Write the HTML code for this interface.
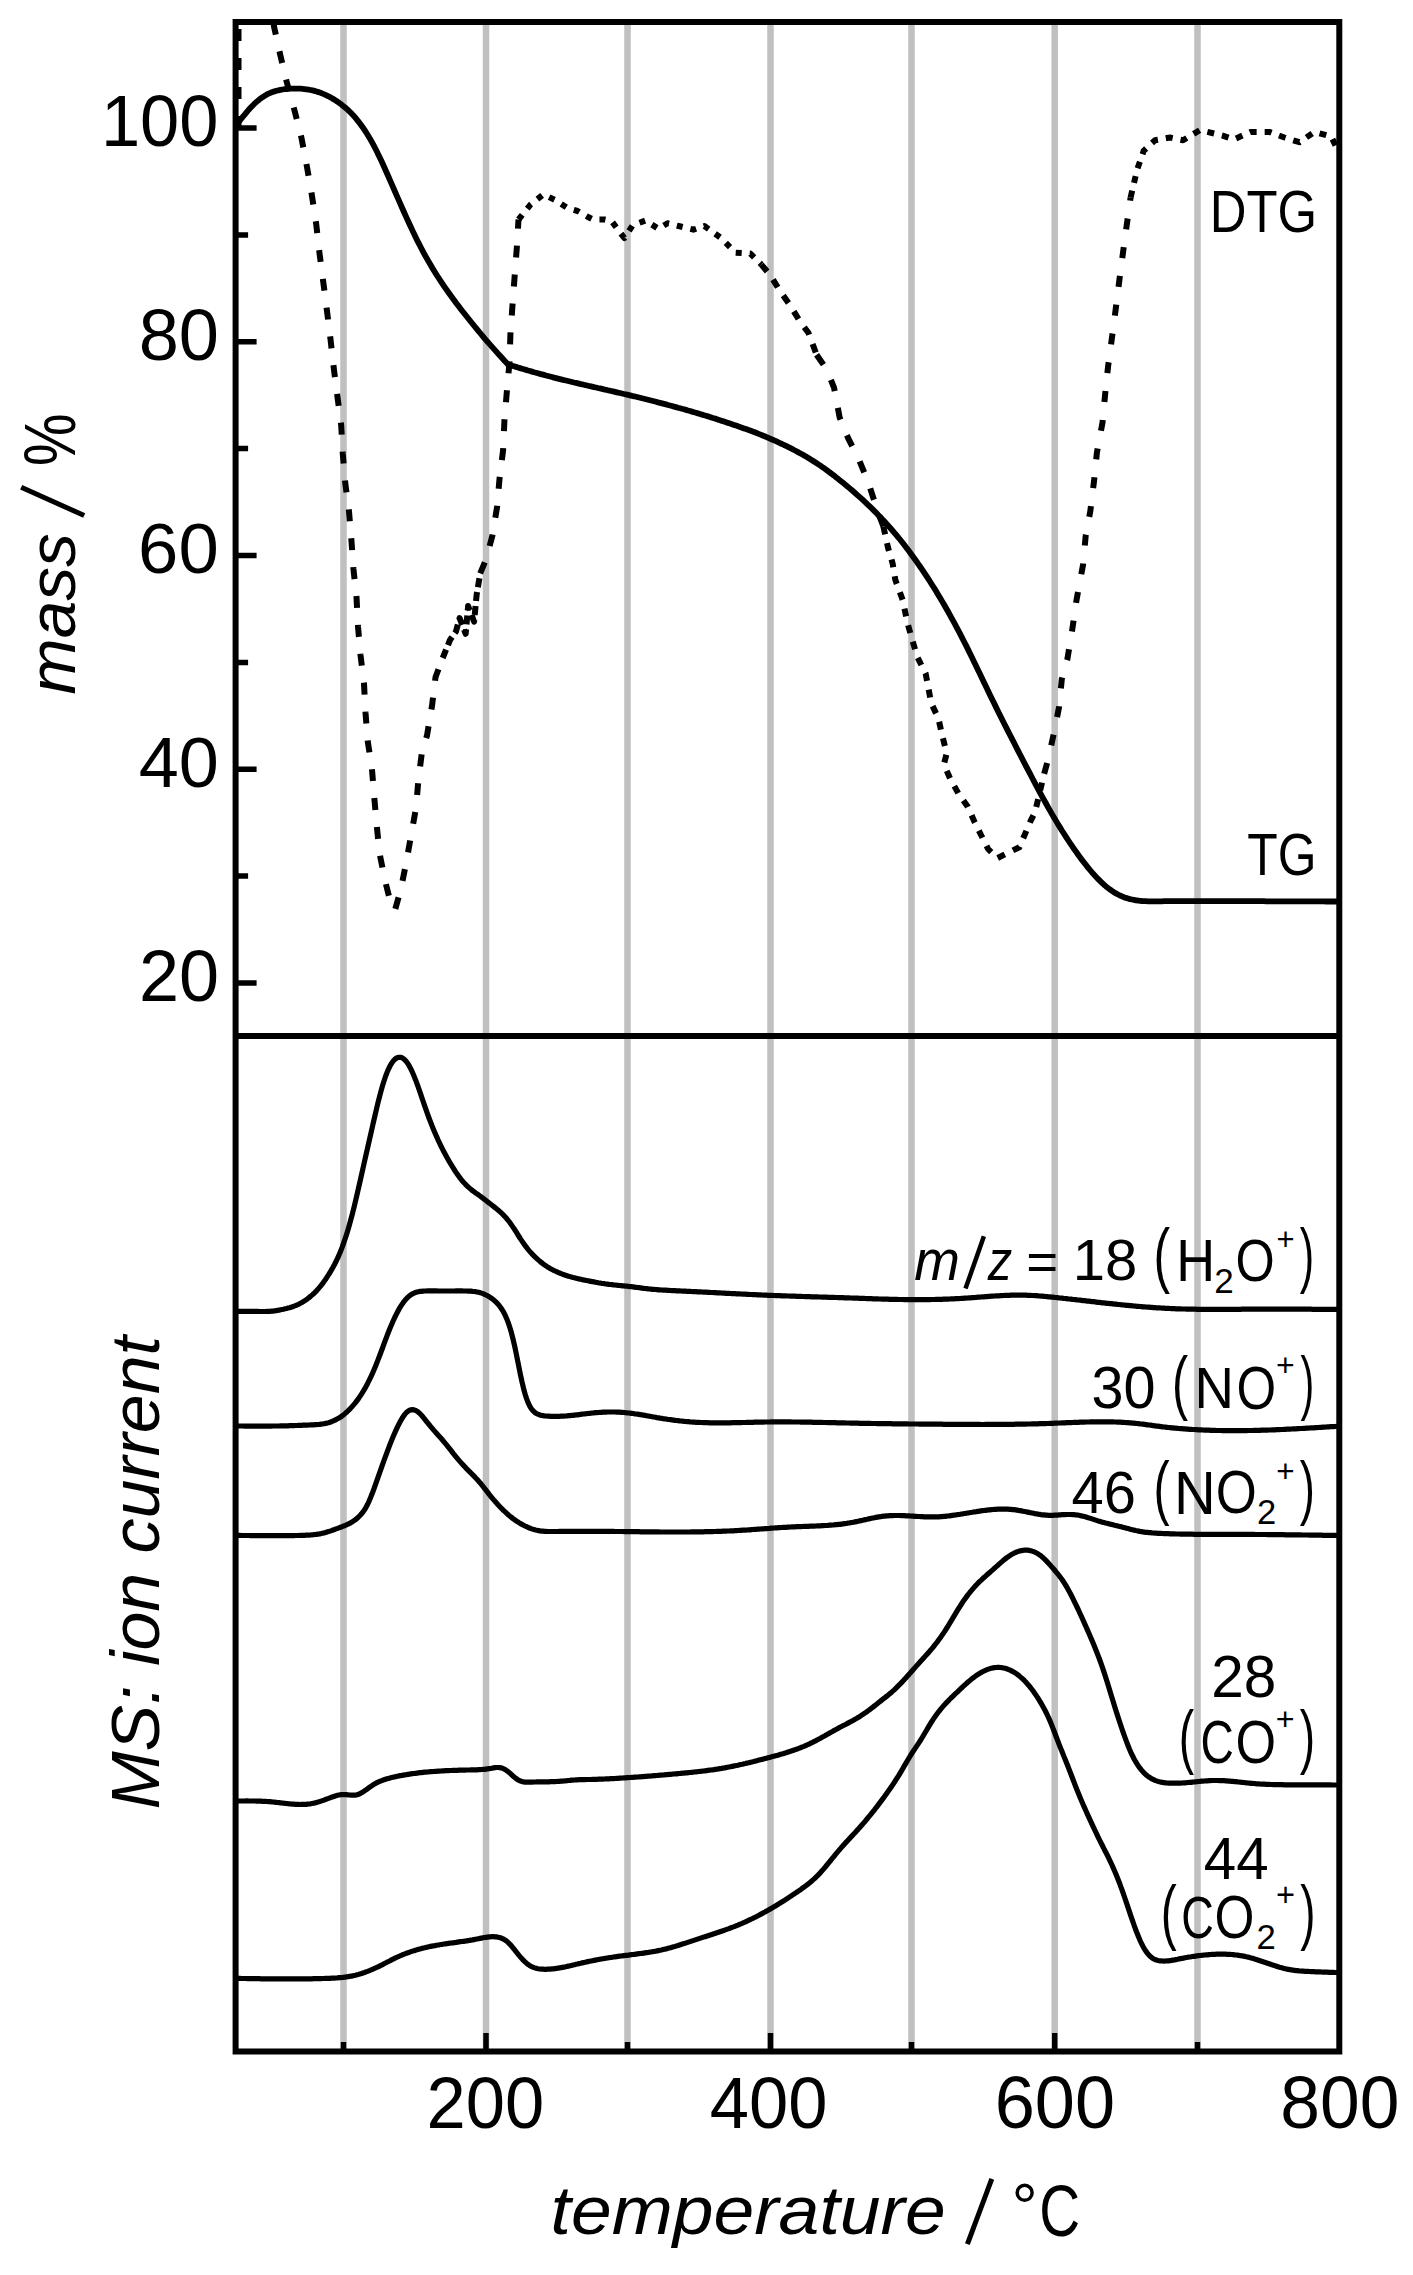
<!DOCTYPE html>
<html><head><meta charset="utf-8"><title>TG / DTG / MS</title>
<style>html,body{margin:0;padding:0;background:#fff;}svg{display:block;}text{font-family:"Liberation Sans",sans-serif;fill:#000;font-kerning:none;font-variant-ligatures:none;}</style></head><body>
<svg width="1413" height="2275" viewBox="0 0 1413 2275">
<rect width="1413" height="2275" fill="#fff"/>
<defs><clipPath id="top"><rect x="235.6" y="22" width="1103.7" height="1014"/></clipPath><clipPath id="bot"><rect x="235.6" y="1036" width="1103.7" height="1015.5"/></clipPath></defs>
<path d="M343.5 22V2051.5M486 22V2051.5M627.5 22V2051.5M770.5 22V2051.5M911.5 22V2051.5M1054.7 22V2051.5M1197.5 22V2051.5" stroke="#c0c0c0" stroke-width="6.5" fill="none"/>
<g clip-path="url(#top)" fill="none" stroke="#000" stroke-linejoin="round">
<path d="M238.5 128 L238.5 5 L271.5 5 L273.9 26 L280.2 54.6 L286.6 81.5 L294.4 110 L301.5 138 L307 167 L312 196 L316.3 224.8 L319.6 254 L323.4 283 L327 311 L330.6 340 L334 370 L337.5 397 L341.2 425.3 L342.8 454 L345.3 483.4 L349 511.4 L351.4 540 L353.4 568.5 L356.5 597 L358 626.5 L360.5 655 L364 683.5 L365.5 712.5 L367.7 741 L371.9 768.3 L374.2 796.7 L376.7 825 L379.5 853.1 L385.2 881.2 L391.3 905.5 L395 910 L400.8 889.5 L406 863.6 L411 836 L416 808 L418.4 780 L422 751.6 L427 735.5 L432 706 L435.5 677.3 L442.7 658" stroke-width="6" stroke-dasharray="12 17" stroke-linecap="butt"/>
<path d="M442.7 658 L450 640 L456 631.4 L459.6 618.1 L465.7 633.8 L468.1 606 L474.1 621.7 L476.6 595.1 L480.2 573.4" stroke-width="6" stroke-dasharray="9 5" stroke-linecap="butt"/>
<path d="M480.2 573.4 L486.2 559 L492.3 535.9 L497.1 506.9 L499.5 479.1 L503.1 450.1 L504.4 421.1 L506.8 392.1 L509.6 361.4 L510.4 334.2 L512.5 305.3 L514.6 276.9 L516.8 248 L518.5 219.5" stroke-width="6" stroke-dasharray="12 17" stroke-linecap="butt"/>
<path d="M518.5 219.5 L530.5 204.6 L543.4 194.3 L555 200 L567.7 208.2 L577.6 211 L587.5 216.7 L593.1 219.5 L604.5 219.5 L611.5 221 L624.3 238 L632.8 225.2 L645.5 220.5 L658.4 228.8 L667.6 223.2 L678.6 226 L693.4 229.7 L704.4 226 L721 238 L735.7 252.7 L750.4 253.6 L761.4 264.6" stroke-width="6" stroke-dasharray="6 8" stroke-linecap="butt"/>
<path d="M761.4 264.6 L770.6 275.7 L780.8 292.2 L790 305.1 L800.1 321.7 L808.4 332.7 L816.6 354.8" stroke-width="6" stroke-dasharray="9 10" stroke-linecap="butt"/>
<path d="M816.6 354.8 L826.8 369.5 L834.1 387.9 L839.6 417.3 L847.9 437.6 L859 459.7 L868.6 483.2 L877.8 511.8 L883.4 526.5" stroke-width="6" stroke-dasharray="12 17" stroke-linecap="butt"/>
<path d="M883.4 526.5 L888 547.6 L892.6 563.3 L895.3 579.8 L902.7 600.1 L907.3 622.2 L911.9 638.7 L917.4 657.1 L925.7 673.7 L931.2 703.1 L938.4 718.4 L942.1 735 L946.7 753.4 L943.9 764.4 L950.4 779.1 L958.6 793.8 L967.8 806.7 L974.3 821.4 L979.8 832.5 L988.1 849 L997.3 858.2 L1008.3 852.7 L1019.4 847.2 L1030.4 821.4 L1035 812.2 L1044.2 773.6" stroke-width="6" stroke-dasharray="8 9" stroke-linecap="butt"/>
<path d="M1044.2 773.6 L1048.8 757 L1054.3 731.3 L1059.1 706.8 L1061.8 679.2 L1067.4 659 L1072 631.4 L1076.5 600.1 L1083 565.1 L1085.7 535.7 L1090.3 511.3 L1094.1 480.7 L1096.9 452.6 L1102.5 422.6 L1105.3 392.6 L1108.1 366.3 L1111.9 338.2 L1115.6 310 L1119.4 280 L1123.1 251.9 L1126.9 223.8 L1130.6 197.5" stroke-width="6" stroke-dasharray="11 18" stroke-linecap="butt"/>
<path d="M1130.6 197.5 L1137.2 169.4 L1143.8 150.6 L1155 140.3 L1170 137.5 L1183.1 140.3 L1200 130 L1222.5 135.6 L1233.8 139.4 L1250.7 131.9 L1269.4 131.9 L1284.4 137.5 L1299.4 142.2 L1314.4 131.9 L1331.3 136.6 L1337 148.8" stroke-width="6" stroke-dasharray="7 8" stroke-linecap="butt"/>
<path d="M236.5 124.8 L238.5 122.3 L240.5 119.8 L242.5 117.2 L244.5 114.8 L246.5 112.4 L248.5 110 L250.5 107.8 L252.5 105.7 L254.5 103.7 L256.5 101.9 L258.5 100.2 L260.5 98.6 L262.5 97.2 L264.5 95.9 L266.5 94.7 L268.5 93.7 L270.5 92.8 L272.5 92 L274.5 91.4 L276.5 90.8 L278.5 90.3 L280.5 89.9 L282.5 89.5 L284.5 89.2 L286.5 89 L288.5 88.8 L290.5 88.7 L292.5 88.6 L294.5 88.6 L296.5 88.6 L298.5 88.6 L300.5 88.7 L302.5 88.9 L304.5 89.1 L306.5 89.3 L308.5 89.6 L310.5 90 L312.5 90.4 L314.5 90.9 L316.5 91.5 L318.5 92.1 L320.5 92.8 L322.5 93.6 L324.5 94.4 L326.5 95.3 L328.5 96.3 L330.5 97.4 L332.5 98.5 L334.5 99.8 L336.5 101 L338.5 102.4 L340.5 103.8 L342.5 105.4 L344.5 107 L346.5 108.7 L348.5 110.5 L350.5 112.5 L352.5 114.6 L354.5 116.7 L356.5 119.1 L358.5 121.6 L360.5 124.2 L362.5 127 L364.5 129.9 L366.5 133 L368.5 136.2 L370.5 139.6 L372.5 143.2 L374.5 146.9 L376.5 150.8 L378.5 154.9 L380.5 159 L382.5 163.3 L384.5 167.7 L386.5 172.2 L388.5 176.7 L390.5 181.3 L392.5 185.9 L394.5 190.5 L396.5 195.1 L398.5 199.6 L400.5 204.2 L402.5 208.7 L404.5 213.2 L406.5 217.6 L408.5 222 L410.5 226.3 L412.5 230.6 L414.5 234.8 L416.5 238.9 L418.5 242.9 L420.5 246.8 L422.5 250.6 L424.5 254.3 L426.5 257.9 L428.5 261.4 L430.5 264.8 L432.5 268.2 L434.5 271.5 L436.5 274.7 L438.5 277.8 L440.5 280.8 L442.5 283.8 L444.5 286.8 L446.5 289.7 L448.5 292.5 L450.5 295.3 L452.5 298 L454.5 300.7 L456.5 303.4 L458.5 306.1 L460.5 308.7 L462.5 311.2 L464.5 313.8 L466.5 316.3 L468.5 318.8 L470.5 321.3 L472.5 323.8 L474.5 326.3 L476.5 328.7 L478.5 331.1 L480.5 333.5 L482.5 335.9 L484.5 338.3 L486.5 340.6 L488.5 342.9 L490.5 345.1 L492.5 347.4 L494.5 349.6 L496.5 351.9 L498.5 354.1 L500.5 356.3 L502.5 358.5 L504.5 360.7 L506.5 362.9 L508 364.6 L508 364.5 L510 365.1 L512 365.7 L514 366.3 L516 366.9 L518 367.5 L520 368.1 L522 368.7 L524 369.3 L526 369.9 L528 370.5 L530 371 L532 371.6 L534 372.2 L536 372.7 L538 373.3 L540 373.9 L542 374.4 L544 374.9 L546 375.5 L548 376 L550 376.5 L552 377 L554 377.6 L556 378.1 L558 378.6 L560 379.1 L562 379.6 L564 380.1 L566 380.5 L568 381 L570 381.5 L572 382 L574 382.5 L576 382.9 L578 383.4 L580 383.9 L582 384.3 L584 384.8 L586 385.2 L588 385.7 L590 386.2 L592 386.6 L594 387.1 L596 387.5 L598 388 L600 388.4 L602 388.9 L604 389.4 L606 389.8 L608 390.3 L610 390.7 L612 391.2 L614 391.6 L616 392.1 L618 392.6 L620 393 L622 393.5 L624 394 L626 394.4 L628 394.9 L630 395.4 L632 395.9 L634 396.3 L636 396.8 L638 397.3 L640 397.8 L642 398.3 L644 398.8 L646 399.3 L648 399.8 L650 400.3 L652 400.8 L654 401.3 L656 401.8 L658 402.4 L660 402.9 L662 403.4 L664 403.9 L666 404.4 L668 405 L670 405.5 L672 406 L674 406.6 L676 407.1 L678 407.7 L680 408.2 L682 408.8 L684 409.3 L686 409.9 L688 410.5 L690 411 L692 411.6 L694 412.2 L696 412.8 L698 413.4 L700 414 L702 414.6 L704 415.2 L706 415.8 L708 416.4 L710 417 L712 417.7 L714 418.3 L716 418.9 L718 419.6 L720 420.2 L722 420.9 L724 421.5 L726 422.2 L728 422.9 L730 423.5 L732 424.2 L734 424.9 L736 425.6 L738 426.3 L740 427 L742 427.7 L744 428.4 L746 429.1 L748 429.8 L750 430.5 L752 431.3 L754 432 L756 432.8 L758 433.6 L760 434.4 L762 435.2 L764 436 L766 436.9 L768 437.7 L770 438.6 L772 439.5 L774 440.3 L776 441.2 L778 442.2 L780 443.1 L782 444 L784 445 L786 445.9 L788 446.9 L790 447.9 L792 448.9 L794 450 L796 451 L798 452.1 L800 453.2 L802 454.3 L804 455.4 L806 456.6 L808 457.8 L810 459 L812 460.2 L814 461.5 L816 462.8 L818 464.1 L820 465.4 L822 466.8 L824 468.2 L826 469.6 L828 471.1 L830 472.6 L832 474.1 L834 475.6 L836 477.2 L838 478.8 L840 480.4 L842 482 L844 483.6 L846 485.3 L848 486.9 L850 488.6 L852 490.3 L854 492 L856 493.8 L858 495.6 L860 497.4 L862 499.2 L864 501 L866 502.9 L868 504.8 L870 506.7 L872 508.6 L874 510.6 L876 512.6 L878 514.7 L880 516.7 L882 518.9 L884 521 L886 523.2 L888 525.4 L890 527.7 L892 530 L894 532.3 L896 534.7 L898 537.1 L900 539.5 L902 542 L904 544.6 L906 547.2 L908 549.8 L910 552.5 L912 555.2 L914 558 L916 560.8 L918 563.6 L920 566.5 L922 569.4 L924 572.4 L926 575.4 L928 578.4 L930 581.5 L932 584.7 L934 587.8 L936 591.1 L938 594.4 L940 597.7 L942 601.1 L944 604.5 L946 608 L948 611.5 L950 615.1 L952 618.8 L954 622.4 L956 626.1 L958 629.9 L960 633.7 L962 637.6 L964 641.5 L966 645.4 L968 649.4 L970 653.5 L972 657.6 L974 661.7 L976 665.8 L978 670 L980 674.1 L982 678.3 L984 682.5 L986 686.6 L988 690.8 L990 694.9 L992 699 L994 703.1 L996 707.1 L998 711.2 L1000 715.2 L1002 719.2 L1004 723.2 L1006 727.1 L1008 731.1 L1010 735 L1012 738.9 L1014 742.8 L1016 746.7 L1018 750.6 L1020 754.5 L1022 758.3 L1024 762.2 L1026 766.1 L1028 769.9 L1030 773.7 L1032 777.5 L1034 781.3 L1036 785.1 L1038 788.9 L1040 792.6 L1042 796.3 L1044 799.9 L1046 803.5 L1048 807.1 L1050 810.6 L1052 814.1 L1054 817.5 L1056 820.9 L1058 824.2 L1060 827.4 L1062 830.7 L1064 833.8 L1066 836.9 L1068 840 L1070 843 L1072 845.9 L1074 848.8 L1076 851.7 L1078 854.5 L1080 857.2 L1082 859.9 L1084 862.5 L1086 865.1 L1088 867.6 L1090 870 L1092 872.3 L1094 874.6 L1096 876.8 L1098 878.9 L1100 880.9 L1102 882.8 L1104 884.7 L1106 886.4 L1108 888 L1110 889.5 L1112 890.9 L1114 892.2 L1116 893.4 L1118 894.5 L1120 895.5 L1122 896.4 L1124 897.2 L1126 897.9 L1128 898.5 L1130 899.1 L1132 899.5 L1134 899.9 L1136 900.3 L1138 900.5 L1140 900.8 L1142 901 L1144 901.1 L1146 901.2 L1148 901.3 L1150 901.3 L1152 901.3 L1154 901.3 L1156 901.3 L1158 901.3 L1160 901.3 L1162 901.3 L1164 901.2 L1166 901.2 L1168 901.2 L1170 901.2 L1172 901.2 L1174 901.2 L1176 901.1 L1178 901.1 L1180 901.1 L1182 901.1 L1184 901.1 L1186 901.1 L1188 901.1 L1190 901.1 L1192 901.1 L1194 901.1 L1196 901.1 L1198 901.1 L1200 901.1 L1202 901.1 L1204 901.1 L1206 901.1 L1208 901.1 L1210 901.1 L1212 901.1 L1214 901.1 L1216 901.1 L1218 901.1 L1220 901.1 L1222 901.1 L1224 901.1 L1226 901.1 L1228 901.1 L1230 901.1 L1232 901.1 L1234 901.1 L1236 901.1 L1238 901.2 L1240 901.2 L1242 901.2 L1244 901.2 L1246 901.2 L1248 901.2 L1250 901.2 L1252 901.2 L1254 901.2 L1256 901.2 L1258 901.2 L1260 901.2 L1262 901.2 L1264 901.2 L1266 901.3 L1268 901.3 L1270 901.3 L1272 901.3 L1274 901.3 L1276 901.3 L1278 901.3 L1280 901.3 L1282 901.3 L1284 901.3 L1286 901.3 L1288 901.3 L1290 901.3 L1292 901.3 L1294 901.3 L1296 901.4 L1298 901.4 L1300 901.4 L1302 901.4 L1304 901.4 L1306 901.4 L1308 901.4 L1310 901.4 L1312 901.4 L1314 901.4 L1316 901.4 L1318 901.4 L1320 901.4 L1322 901.4 L1324 901.4 L1326 901.5 L1328 901.5 L1330 901.5 L1332 901.5 L1334 901.5 L1336 901.5 L1338 901.5 L1340 901.5 L1342 901.5" stroke-width="5.8"/>
</g>
<g clip-path="url(#bot)" fill="none" stroke="#000" stroke-width="5.2" stroke-linejoin="round">
<path d="M237 1311.4 L238.5 1311.4 L240 1311.4 L241.5 1311.4 L243 1311.4 L244.5 1311.4 L246 1311.4 L247.5 1311.4 L249 1311.4 L250.5 1311.4 L252 1311.4 L253.5 1311.4 L255 1311.4 L256.5 1311.4 L258 1311.4 L259.5 1311.5 L261 1311.5 L262.5 1311.5 L264 1311.5 L265.5 1311.5 L267 1311.4 L268.5 1311.4 L270 1311.3 L271.5 1311.2 L273 1311.1 L274.5 1310.9 L276 1310.7 L277.5 1310.4 L279 1310.2 L280.5 1309.8 L282 1309.5 L283.5 1309.2 L285 1308.8 L286.5 1308.5 L288 1308.1 L289.5 1307.7 L291 1307.2 L292.5 1306.7 L294 1306.2 L295.5 1305.6 L297 1305 L298.5 1304.3 L300 1303.5 L301.5 1302.7 L303 1301.8 L304.5 1300.8 L306 1299.8 L307.5 1298.8 L309 1297.6 L310.5 1296.4 L312 1295.1 L313.5 1293.8 L315 1292.3 L316.5 1290.8 L318 1289.1 L319.5 1287.4 L321 1285.6 L322.5 1283.7 L324 1281.6 L325.5 1279.5 L327 1277.2 L328.5 1274.9 L330 1272.5 L331.5 1269.9 L333 1267.3 L334.5 1264.5 L336 1261.5 L337.5 1258.4 L339 1255 L340.5 1251.4 L342 1247.6 L343.5 1243.5 L345 1239.2 L346.5 1234.6 L348 1229.7 L349.5 1224.5 L351 1219 L352.5 1213.3 L354 1207.3 L355.5 1201.1 L357 1194.7 L358.5 1188.2 L360 1181.6 L361.5 1174.9 L363 1168.2 L364.5 1161.5 L366 1154.9 L367.5 1148.3 L369 1141.7 L370.5 1135.1 L372 1128.5 L373.5 1121.9 L375 1115.4 L376.5 1109 L378 1102.7 L379.5 1096.8 L381 1091.1 L382.5 1085.8 L384 1081 L385.5 1076.5 L387 1072.6 L388.5 1069.1 L390 1066 L391.5 1063.4 L393 1061.3 L394.5 1059.6 L396 1058.4 L397.5 1057.6 L399 1057.3 L400.5 1057.3 L402 1057.8 L403.5 1058.7 L405 1060 L406.5 1061.7 L408 1063.8 L409.5 1066.4 L411 1069.2 L412.5 1072.5 L414 1076 L415.5 1079.7 L417 1083.7 L418.5 1087.9 L420 1092.2 L421.5 1096.6 L423 1101 L424.5 1105.4 L426 1109.7 L427.5 1113.9 L429 1118 L430.5 1121.9 L432 1125.8 L433.5 1129.4 L435 1133 L436.5 1136.4 L438 1139.8 L439.5 1143 L441 1146.1 L442.5 1149.1 L444 1152 L445.5 1154.8 L447 1157.5 L448.5 1160.1 L450 1162.7 L451.5 1165.2 L453 1167.6 L454.5 1170 L456 1172.3 L457.5 1174.5 L459 1176.6 L460.5 1178.6 L462 1180.5 L463.5 1182.2 L465 1183.8 L466.5 1185.4 L468 1186.8 L469.5 1188.1 L471 1189.4 L472.5 1190.6 L474 1191.7 L475.5 1192.8 L477 1193.8 L478.5 1194.9 L480 1196 L481.5 1197.1 L483 1198.2 L484.5 1199.4 L486 1200.5 L487.5 1201.7 L489 1202.9 L490.5 1204 L492 1205.2 L493.5 1206.4 L495 1207.6 L496.5 1208.8 L498 1210 L499.5 1211.3 L501 1212.7 L502.5 1214.1 L504 1215.6 L505.5 1217.2 L507 1219 L508.5 1220.8 L510 1222.8 L511.5 1224.9 L513 1227.1 L514.5 1229.3 L516 1231.7 L517.5 1234.1 L519 1236.5 L520.5 1238.9 L522 1241.1 L523.5 1243.3 L525 1245.4 L526.5 1247.4 L528 1249.3 L529.5 1251.1 L531 1252.8 L532.5 1254.4 L534 1256 L535.5 1257.4 L537 1258.8 L538.5 1260.1 L540 1261.4 L541.5 1262.6 L543 1263.8 L544.5 1264.9 L546 1265.9 L547.5 1266.9 L549 1267.8 L550.5 1268.7 L552 1269.5 L553.5 1270.3 L555 1271 L556.5 1271.7 L558 1272.4 L559.5 1273 L561 1273.6 L562.5 1274.2 L564 1274.7 L565.5 1275.2 L567 1275.7 L568.5 1276.2 L570 1276.6 L571.5 1277.1 L573 1277.5 L574.5 1277.8 L576 1278.2 L577.5 1278.6 L579 1278.9 L580.5 1279.2 L582 1279.6 L583.5 1279.9 L585 1280.2 L586.5 1280.5 L588 1280.8 L589.5 1281.1 L591 1281.4 L592.5 1281.7 L594 1281.9 L595.5 1282.2 L597 1282.5 L598.5 1282.8 L600 1283 L601.5 1283.3 L603 1283.5 L604.5 1283.7 L606 1284 L607.5 1284.2 L609 1284.4 L610.5 1284.5 L612 1284.7 L613.5 1284.9 L615 1285 L616.5 1285.2 L618 1285.3 L619.5 1285.5 L621 1285.6 L622.5 1285.8 L624 1285.9 L625.5 1286.1 L627 1286.2 L628.5 1286.4 L630 1286.6 L631.5 1286.7 L633 1286.9 L634.5 1287.1 L636 1287.3 L637.5 1287.5 L639 1287.7 L640.5 1287.9 L642 1288.1 L643.5 1288.3 L645 1288.5 L646.5 1288.6 L648 1288.8 L649.5 1289 L651 1289.1 L652.5 1289.3 L654 1289.4 L655.5 1289.5 L657 1289.6 L658.5 1289.8 L660 1289.9 L661.5 1290 L663 1290.1 L664.5 1290.2 L666 1290.2 L667.5 1290.3 L669 1290.4 L670.5 1290.5 L672 1290.6 L673.5 1290.6 L675 1290.7 L676.5 1290.8 L678 1290.8 L679.5 1290.9 L681 1291 L682.5 1291.1 L684 1291.1 L685.5 1291.2 L687 1291.3 L688.5 1291.3 L690 1291.4 L691.5 1291.5 L693 1291.6 L694.5 1291.6 L696 1291.7 L697.5 1291.8 L699 1291.9 L700.5 1291.9 L702 1292 L703.5 1292.1 L705 1292.2 L706.5 1292.2 L708 1292.3 L709.5 1292.4 L711 1292.5 L712.5 1292.5 L714 1292.6 L715.5 1292.7 L717 1292.8 L718.5 1292.9 L720 1292.9 L721.5 1293 L723 1293.1 L724.5 1293.2 L726 1293.3 L727.5 1293.3 L729 1293.4 L730.5 1293.5 L732 1293.6 L733.5 1293.6 L735 1293.7 L736.5 1293.8 L738 1293.9 L739.5 1293.9 L741 1294 L742.5 1294.1 L744 1294.2 L745.5 1294.2 L747 1294.3 L748.5 1294.4 L750 1294.5 L751.5 1294.5 L753 1294.6 L754.5 1294.7 L756 1294.7 L757.5 1294.8 L759 1294.9 L760.5 1294.9 L762 1295 L763.5 1295.1 L765 1295.1 L766.5 1295.2 L768 1295.3 L769.5 1295.3 L771 1295.4 L772.5 1295.4 L774 1295.5 L775.5 1295.6 L777 1295.6 L778.5 1295.7 L780 1295.7 L781.5 1295.8 L783 1295.8 L784.5 1295.9 L786 1295.9 L787.5 1296 L789 1296 L790.5 1296.1 L792 1296.1 L793.5 1296.2 L795 1296.2 L796.5 1296.3 L798 1296.3 L799.5 1296.4 L801 1296.4 L802.5 1296.5 L804 1296.5 L805.5 1296.6 L807 1296.6 L808.5 1296.7 L810 1296.7 L811.5 1296.8 L813 1296.8 L814.5 1296.8 L816 1296.9 L817.5 1296.9 L819 1297 L820.5 1297 L822 1297.1 L823.5 1297.1 L825 1297.2 L826.5 1297.2 L828 1297.3 L829.5 1297.3 L831 1297.3 L832.5 1297.4 L834 1297.4 L835.5 1297.5 L837 1297.5 L838.5 1297.6 L840 1297.6 L841.5 1297.7 L843 1297.7 L844.5 1297.8 L846 1297.8 L847.5 1297.9 L849 1297.9 L850.5 1298 L852 1298 L853.5 1298.1 L855 1298.1 L856.5 1298.2 L858 1298.2 L859.5 1298.3 L861 1298.3 L862.5 1298.4 L864 1298.4 L865.5 1298.5 L867 1298.6 L868.5 1298.6 L870 1298.7 L871.5 1298.7 L873 1298.8 L874.5 1298.8 L876 1298.9 L877.5 1298.9 L879 1299 L880.5 1299 L882 1299.1 L883.5 1299.1 L885 1299.1 L886.5 1299.2 L888 1299.2 L889.5 1299.3 L891 1299.3 L892.5 1299.3 L894 1299.4 L895.5 1299.4 L897 1299.4 L898.5 1299.5 L900 1299.5 L901.5 1299.5 L903 1299.5 L904.5 1299.6 L906 1299.6 L907.5 1299.6 L909 1299.6 L910.5 1299.6 L912 1299.6 L913.5 1299.6 L915 1299.7 L916.5 1299.7 L918 1299.7 L919.5 1299.7 L921 1299.6 L922.5 1299.6 L924 1299.6 L925.5 1299.6 L927 1299.6 L928.5 1299.6 L930 1299.6 L931.5 1299.5 L933 1299.5 L934.5 1299.5 L936 1299.4 L937.5 1299.4 L939 1299.4 L940.5 1299.3 L942 1299.3 L943.5 1299.2 L945 1299.2 L946.5 1299.1 L948 1299.1 L949.5 1299 L951 1298.9 L952.5 1298.9 L954 1298.8 L955.5 1298.7 L957 1298.6 L958.5 1298.6 L960 1298.5 L961.5 1298.4 L963 1298.3 L964.5 1298.2 L966 1298.1 L967.5 1298 L969 1297.9 L970.5 1297.8 L972 1297.7 L973.5 1297.6 L975 1297.5 L976.5 1297.3 L978 1297.2 L979.5 1297.1 L981 1297 L982.5 1296.9 L984 1296.8 L985.5 1296.7 L987 1296.6 L988.5 1296.4 L990 1296.3 L991.5 1296.2 L993 1296.1 L994.5 1296 L996 1295.9 L997.5 1295.8 L999 1295.8 L1000.5 1295.7 L1002 1295.6 L1003.5 1295.5 L1005 1295.4 L1006.5 1295.4 L1008 1295.3 L1009.5 1295.3 L1011 1295.2 L1012.5 1295.2 L1014 1295.2 L1015.5 1295.1 L1017 1295.1 L1018.5 1295.1 L1020 1295.1 L1021.5 1295.1 L1023 1295.1 L1024.5 1295.2 L1026 1295.2 L1027.5 1295.3 L1029 1295.3 L1030.5 1295.4 L1032 1295.5 L1033.5 1295.5 L1035 1295.6 L1036.5 1295.7 L1038 1295.8 L1039.5 1296 L1041 1296.1 L1042.5 1296.2 L1044 1296.3 L1045.5 1296.5 L1047 1296.6 L1048.5 1296.8 L1050 1296.9 L1051.5 1297.1 L1053 1297.2 L1054.5 1297.4 L1056 1297.5 L1057.5 1297.7 L1059 1297.9 L1060.5 1298 L1062 1298.2 L1063.5 1298.4 L1065 1298.5 L1066.5 1298.7 L1068 1298.9 L1069.5 1299 L1071 1299.2 L1072.5 1299.4 L1074 1299.5 L1075.5 1299.7 L1077 1299.9 L1078.5 1300 L1080 1300.2 L1081.5 1300.4 L1083 1300.6 L1084.5 1300.7 L1086 1300.9 L1087.5 1301.1 L1089 1301.2 L1090.5 1301.4 L1092 1301.6 L1093.5 1301.7 L1095 1301.9 L1096.5 1302.1 L1098 1302.3 L1099.5 1302.4 L1101 1302.6 L1102.5 1302.8 L1104 1302.9 L1105.5 1303.1 L1107 1303.3 L1108.5 1303.4 L1110 1303.6 L1111.5 1303.7 L1113 1303.9 L1114.5 1304.1 L1116 1304.2 L1117.5 1304.4 L1119 1304.5 L1120.5 1304.7 L1122 1304.8 L1123.5 1305 L1125 1305.1 L1126.5 1305.3 L1128 1305.4 L1129.5 1305.6 L1131 1305.7 L1132.5 1305.8 L1134 1306 L1135.5 1306.1 L1137 1306.3 L1138.5 1306.4 L1140 1306.5 L1141.5 1306.6 L1143 1306.8 L1144.5 1306.9 L1146 1307 L1147.5 1307.1 L1149 1307.2 L1150.5 1307.3 L1152 1307.4 L1153.5 1307.6 L1155 1307.7 L1156.5 1307.8 L1158 1307.9 L1159.5 1307.9 L1161 1308 L1162.5 1308.1 L1164 1308.2 L1165.5 1308.3 L1167 1308.4 L1168.5 1308.4 L1170 1308.5 L1171.5 1308.6 L1173 1308.6 L1174.5 1308.7 L1176 1308.8 L1177.5 1308.8 L1179 1308.9 L1180.5 1308.9 L1182 1309 L1183.5 1309 L1185 1309 L1186.5 1309.1 L1188 1309.1 L1189.5 1309.1 L1191 1309.2 L1192.5 1309.2 L1194 1309.2 L1195.5 1309.2 L1197 1309.3 L1198.5 1309.3 L1200 1309.3 L1201.5 1309.3 L1203 1309.3 L1204.5 1309.3 L1206 1309.3 L1207.5 1309.3 L1209 1309.4 L1210.5 1309.4 L1212 1309.4 L1213.5 1309.4 L1215 1309.4 L1216.5 1309.4 L1218 1309.4 L1219.5 1309.4 L1221 1309.4 L1222.5 1309.4 L1224 1309.3 L1225.5 1309.3 L1227 1309.3 L1228.5 1309.3 L1230 1309.3 L1231.5 1309.3 L1233 1309.3 L1234.5 1309.3 L1236 1309.3 L1237.5 1309.3 L1239 1309.3 L1240.5 1309.3 L1242 1309.2 L1243.5 1309.2 L1245 1309.2 L1246.5 1309.2 L1248 1309.2 L1249.5 1309.2 L1251 1309.2 L1252.5 1309.2 L1254 1309.2 L1255.5 1309.2 L1257 1309.2 L1258.5 1309.2 L1260 1309.2 L1261.5 1309.2 L1263 1309.2 L1264.5 1309.2 L1266 1309.2 L1267.5 1309.1 L1269 1309.1 L1270.5 1309.1 L1272 1309.1 L1273.5 1309.1 L1275 1309.1 L1276.5 1309.1 L1278 1309.1 L1279.5 1309.1 L1281 1309.2 L1282.5 1309.2 L1284 1309.2 L1285.5 1309.2 L1287 1309.2 L1288.5 1309.2 L1290 1309.2 L1291.5 1309.2 L1293 1309.2 L1294.5 1309.2 L1296 1309.2 L1297.5 1309.2 L1299 1309.2 L1300.5 1309.2 L1302 1309.2 L1303.5 1309.2 L1305 1309.2 L1306.5 1309.2 L1308 1309.2 L1309.5 1309.2 L1311 1309.2 L1312.5 1309.3 L1314 1309.3 L1315.5 1309.3 L1317 1309.3 L1318.5 1309.3 L1320 1309.3 L1321.5 1309.3 L1323 1309.3 L1324.5 1309.3 L1326 1309.3 L1327.5 1309.3 L1329 1309.3 L1330.5 1309.4 L1332 1309.4 L1333.5 1309.4 L1335 1309.4 L1336.5 1309.4 L1338 1309.4 L1339 1309.4"/>
<path d="M237 1426 L238.5 1426 L240 1426 L241.5 1426 L243 1426 L244.5 1426.1 L246 1426.1 L247.5 1426.1 L249 1426.1 L250.5 1426.1 L252 1426.1 L253.5 1426.1 L255 1426.1 L256.5 1426.1 L258 1426.1 L259.5 1426.1 L261 1426.1 L262.5 1426.1 L264 1426.1 L265.5 1426.1 L267 1426.1 L268.5 1426.1 L270 1426.1 L271.5 1426.1 L273 1426 L274.5 1426 L276 1426 L277.5 1426 L279 1426 L280.5 1425.9 L282 1425.9 L283.5 1425.9 L285 1425.8 L286.5 1425.8 L288 1425.8 L289.5 1425.7 L291 1425.7 L292.5 1425.6 L294 1425.6 L295.5 1425.5 L297 1425.5 L298.5 1425.4 L300 1425.4 L301.5 1425.3 L303 1425.2 L304.5 1425.2 L306 1425.1 L307.5 1425.1 L309 1425 L310.5 1424.9 L312 1424.9 L313.5 1424.8 L315 1424.7 L316.5 1424.6 L318 1424.5 L319.5 1424.4 L321 1424.2 L322.5 1424 L324 1423.7 L325.5 1423.4 L327 1423.1 L328.5 1422.7 L330 1422.2 L331.5 1421.7 L333 1421 L334.5 1420.4 L336 1419.6 L337.5 1418.8 L339 1417.9 L340.5 1417 L342 1416 L343.5 1414.9 L345 1413.6 L346.5 1412.3 L348 1410.9 L349.5 1409.4 L351 1407.8 L352.5 1406.1 L354 1404.4 L355.5 1402.6 L357 1400.6 L358.5 1398.6 L360 1396.4 L361.5 1394.1 L363 1391.7 L364.5 1389.2 L366 1386.5 L367.5 1383.7 L369 1380.7 L370.5 1377.6 L372 1374.4 L373.5 1371 L375 1367.4 L376.5 1363.7 L378 1359.9 L379.5 1356 L381 1352 L382.5 1348 L384 1343.9 L385.5 1339.9 L387 1335.9 L388.5 1332 L390 1328.3 L391.5 1324.7 L393 1321.3 L394.5 1318 L396 1314.9 L397.5 1312 L399 1309.2 L400.5 1306.7 L402 1304.4 L403.5 1302.2 L405 1300.3 L406.5 1298.6 L408 1297.1 L409.5 1295.8 L411 1294.7 L412.5 1293.8 L414 1293.1 L415.5 1292.5 L417 1292 L418.5 1291.7 L420 1291.4 L421.5 1291.3 L423 1291.1 L424.5 1291 L426 1291 L427.5 1290.9 L429 1290.9 L430.5 1290.9 L432 1290.9 L433.5 1290.9 L435 1290.9 L436.5 1290.9 L438 1291 L439.5 1291 L441 1291 L442.5 1291 L444 1291 L445.5 1291 L447 1291 L448.5 1291 L450 1291 L451.5 1291 L453 1291 L454.5 1291 L456 1290.9 L457.5 1290.9 L459 1290.9 L460.5 1290.9 L462 1290.9 L463.5 1291 L465 1291 L466.5 1291 L468 1291.1 L469.5 1291.1 L471 1291.2 L472.5 1291.4 L474 1291.5 L475.5 1291.7 L477 1292 L478.5 1292.3 L480 1292.6 L481.5 1293.1 L483 1293.6 L484.5 1294.3 L486 1295 L487.5 1295.8 L489 1296.6 L490.5 1297.6 L492 1298.7 L493.5 1299.8 L495 1301.1 L496.5 1302.5 L498 1304.1 L499.5 1305.9 L501 1308 L502.5 1310.3 L504 1312.9 L505.5 1315.9 L507 1319.4 L508.5 1323.4 L510 1328 L511.5 1333.1 L513 1339 L514.5 1345.4 L516 1352.5 L517.5 1359.9 L519 1367.5 L520.5 1374.9 L522 1381.9 L523.5 1388.2 L525 1393.7 L526.5 1398.4 L528 1402.4 L529.5 1405.6 L531 1408.2 L532.5 1410.2 L534 1411.7 L535.5 1412.9 L537 1413.8 L538.5 1414.4 L540 1415 L541.5 1415.4 L543 1415.7 L544.5 1415.9 L546 1416 L547.5 1416.1 L549 1416.2 L550.5 1416.3 L552 1416.3 L553.5 1416.4 L555 1416.4 L556.5 1416.4 L558 1416.3 L559.5 1416.3 L561 1416.2 L562.5 1416.2 L564 1416.1 L565.5 1416 L567 1415.9 L568.5 1415.7 L570 1415.6 L571.5 1415.4 L573 1415.3 L574.5 1415.1 L576 1414.9 L577.5 1414.8 L579 1414.6 L580.5 1414.4 L582 1414.2 L583.5 1414 L585 1413.8 L586.5 1413.7 L588 1413.5 L589.5 1413.3 L591 1413.2 L592.5 1413 L594 1412.8 L595.5 1412.7 L597 1412.6 L598.5 1412.5 L600 1412.4 L601.5 1412.3 L603 1412.2 L604.5 1412.1 L606 1412.1 L607.5 1412 L609 1412 L610.5 1412 L612 1412 L613.5 1412 L615 1412 L616.5 1412.1 L618 1412.1 L619.5 1412.2 L621 1412.3 L622.5 1412.4 L624 1412.5 L625.5 1412.7 L627 1412.8 L628.5 1413 L630 1413.1 L631.5 1413.3 L633 1413.5 L634.5 1413.8 L636 1414 L637.5 1414.2 L639 1414.4 L640.5 1414.7 L642 1414.9 L643.5 1415.2 L645 1415.4 L646.5 1415.7 L648 1416 L649.5 1416.2 L651 1416.5 L652.5 1416.8 L654 1417 L655.5 1417.3 L657 1417.6 L658.5 1417.8 L660 1418.1 L661.5 1418.3 L663 1418.6 L664.5 1418.8 L666 1419 L667.5 1419.3 L669 1419.5 L670.5 1419.7 L672 1419.9 L673.5 1420.1 L675 1420.3 L676.5 1420.5 L678 1420.7 L679.5 1420.9 L681 1421 L682.5 1421.2 L684 1421.3 L685.5 1421.5 L687 1421.6 L688.5 1421.7 L690 1421.9 L691.5 1422 L693 1422.1 L694.5 1422.2 L696 1422.3 L697.5 1422.3 L699 1422.4 L700.5 1422.5 L702 1422.5 L703.5 1422.6 L705 1422.6 L706.5 1422.7 L708 1422.7 L709.5 1422.8 L711 1422.8 L712.5 1422.8 L714 1422.8 L715.5 1422.8 L717 1422.8 L718.5 1422.9 L720 1422.9 L721.5 1422.8 L723 1422.8 L724.5 1422.8 L726 1422.8 L727.5 1422.8 L729 1422.8 L730.5 1422.8 L732 1422.7 L733.5 1422.7 L735 1422.7 L736.5 1422.7 L738 1422.6 L739.5 1422.6 L741 1422.6 L742.5 1422.5 L744 1422.5 L745.5 1422.5 L747 1422.4 L748.5 1422.4 L750 1422.3 L751.5 1422.3 L753 1422.3 L754.5 1422.2 L756 1422.2 L757.5 1422.2 L759 1422.1 L760.5 1422.1 L762 1422.1 L763.5 1422.1 L765 1422 L766.5 1422 L768 1422 L769.5 1422 L771 1421.9 L772.5 1421.9 L774 1421.9 L775.5 1421.9 L777 1421.9 L778.5 1421.9 L780 1421.9 L781.5 1421.9 L783 1421.9 L784.5 1421.9 L786 1421.9 L787.5 1421.9 L789 1421.9 L790.5 1421.9 L792 1422 L793.5 1422 L795 1422 L796.5 1422 L798 1422 L799.5 1422 L801 1422.1 L802.5 1422.1 L804 1422.1 L805.5 1422.1 L807 1422.1 L808.5 1422.2 L810 1422.2 L811.5 1422.2 L813 1422.3 L814.5 1422.3 L816 1422.3 L817.5 1422.3 L819 1422.4 L820.5 1422.4 L822 1422.4 L823.5 1422.5 L825 1422.5 L826.5 1422.5 L828 1422.6 L829.5 1422.6 L831 1422.6 L832.5 1422.7 L834 1422.7 L835.5 1422.7 L837 1422.8 L838.5 1422.8 L840 1422.8 L841.5 1422.9 L843 1422.9 L844.5 1422.9 L846 1423 L847.5 1423 L849 1423 L850.5 1423.1 L852 1423.1 L853.5 1423.1 L855 1423.2 L856.5 1423.2 L858 1423.2 L859.5 1423.3 L861 1423.3 L862.5 1423.3 L864 1423.3 L865.5 1423.4 L867 1423.4 L868.5 1423.4 L870 1423.4 L871.5 1423.5 L873 1423.5 L874.5 1423.5 L876 1423.5 L877.5 1423.6 L879 1423.6 L880.5 1423.6 L882 1423.6 L883.5 1423.6 L885 1423.7 L886.5 1423.7 L888 1423.7 L889.5 1423.7 L891 1423.7 L892.5 1423.8 L894 1423.8 L895.5 1423.8 L897 1423.8 L898.5 1423.8 L900 1423.9 L901.5 1423.9 L903 1423.9 L904.5 1423.9 L906 1423.9 L907.5 1423.9 L909 1424 L910.5 1424 L912 1424 L913.5 1424 L915 1424 L916.5 1424 L918 1424 L919.5 1424.1 L921 1424.1 L922.5 1424.1 L924 1424.1 L925.5 1424.1 L927 1424.1 L928.5 1424.1 L930 1424.1 L931.5 1424.2 L933 1424.2 L934.5 1424.2 L936 1424.2 L937.5 1424.2 L939 1424.2 L940.5 1424.2 L942 1424.2 L943.5 1424.3 L945 1424.3 L946.5 1424.3 L948 1424.3 L949.5 1424.3 L951 1424.3 L952.5 1424.3 L954 1424.3 L955.5 1424.3 L957 1424.4 L958.5 1424.4 L960 1424.4 L961.5 1424.4 L963 1424.4 L964.5 1424.4 L966 1424.4 L967.5 1424.4 L969 1424.4 L970.5 1424.4 L972 1424.4 L973.5 1424.4 L975 1424.4 L976.5 1424.4 L978 1424.4 L979.5 1424.4 L981 1424.5 L982.5 1424.5 L984 1424.5 L985.5 1424.4 L987 1424.4 L988.5 1424.4 L990 1424.4 L991.5 1424.4 L993 1424.4 L994.5 1424.4 L996 1424.4 L997.5 1424.4 L999 1424.4 L1000.5 1424.4 L1002 1424.4 L1003.5 1424.4 L1005 1424.4 L1006.5 1424.3 L1008 1424.3 L1009.5 1424.3 L1011 1424.3 L1012.5 1424.3 L1014 1424.3 L1015.5 1424.2 L1017 1424.2 L1018.5 1424.2 L1020 1424.2 L1021.5 1424.1 L1023 1424.1 L1024.5 1424.1 L1026 1424.1 L1027.5 1424 L1029 1424 L1030.5 1424 L1032 1423.9 L1033.5 1423.9 L1035 1423.9 L1036.5 1423.8 L1038 1423.8 L1039.5 1423.7 L1041 1423.7 L1042.5 1423.6 L1044 1423.6 L1045.5 1423.6 L1047 1423.5 L1048.5 1423.5 L1050 1423.4 L1051.5 1423.3 L1053 1423.3 L1054.5 1423.2 L1056 1423.2 L1057.5 1423.1 L1059 1423 L1060.5 1423 L1062 1422.9 L1063.5 1422.9 L1065 1422.8 L1066.5 1422.7 L1068 1422.7 L1069.5 1422.6 L1071 1422.6 L1072.5 1422.5 L1074 1422.4 L1075.5 1422.4 L1077 1422.3 L1078.5 1422.3 L1080 1422.2 L1081.5 1422.2 L1083 1422.1 L1084.5 1422.1 L1086 1422 L1087.5 1422 L1089 1422 L1090.5 1421.9 L1092 1421.9 L1093.5 1421.9 L1095 1421.8 L1096.5 1421.8 L1098 1421.8 L1099.5 1421.8 L1101 1421.8 L1102.5 1421.8 L1104 1421.8 L1105.5 1421.8 L1107 1421.8 L1108.5 1421.8 L1110 1421.9 L1111.5 1421.9 L1113 1421.9 L1114.5 1422 L1116 1422 L1117.5 1422.1 L1119 1422.2 L1120.5 1422.2 L1122 1422.3 L1123.5 1422.4 L1125 1422.5 L1126.5 1422.6 L1128 1422.7 L1129.5 1422.8 L1131 1422.9 L1132.5 1423.1 L1134 1423.2 L1135.5 1423.3 L1137 1423.5 L1138.5 1423.7 L1140 1423.9 L1141.5 1424 L1143 1424.2 L1144.5 1424.4 L1146 1424.6 L1147.5 1424.8 L1149 1425 L1150.5 1425.2 L1152 1425.4 L1153.5 1425.7 L1155 1425.9 L1156.5 1426.1 L1158 1426.2 L1159.5 1426.4 L1161 1426.6 L1162.5 1426.8 L1164 1427 L1165.5 1427.1 L1167 1427.3 L1168.5 1427.5 L1170 1427.6 L1171.5 1427.8 L1173 1427.9 L1174.5 1428.1 L1176 1428.2 L1177.5 1428.3 L1179 1428.5 L1180.5 1428.6 L1182 1428.7 L1183.5 1428.8 L1185 1428.9 L1186.5 1429.1 L1188 1429.2 L1189.5 1429.3 L1191 1429.4 L1192.5 1429.5 L1194 1429.5 L1195.5 1429.6 L1197 1429.7 L1198.5 1429.8 L1200 1429.9 L1201.5 1429.9 L1203 1430 L1204.5 1430.1 L1206 1430.1 L1207.5 1430.2 L1209 1430.2 L1210.5 1430.3 L1212 1430.3 L1213.5 1430.4 L1215 1430.4 L1216.5 1430.5 L1218 1430.5 L1219.5 1430.5 L1221 1430.5 L1222.5 1430.6 L1224 1430.6 L1225.5 1430.6 L1227 1430.6 L1228.5 1430.6 L1230 1430.6 L1231.5 1430.7 L1233 1430.7 L1234.5 1430.7 L1236 1430.7 L1237.5 1430.7 L1239 1430.6 L1240.5 1430.6 L1242 1430.6 L1243.5 1430.6 L1245 1430.6 L1246.5 1430.6 L1248 1430.5 L1249.5 1430.5 L1251 1430.5 L1252.5 1430.5 L1254 1430.4 L1255.5 1430.4 L1257 1430.4 L1258.5 1430.3 L1260 1430.3 L1261.5 1430.2 L1263 1430.2 L1264.5 1430.2 L1266 1430.1 L1267.5 1430.1 L1269 1430 L1270.5 1430 L1272 1429.9 L1273.5 1429.8 L1275 1429.8 L1276.5 1429.7 L1278 1429.7 L1279.5 1429.6 L1281 1429.5 L1282.5 1429.5 L1284 1429.4 L1285.5 1429.3 L1287 1429.2 L1288.5 1429.2 L1290 1429.1 L1291.5 1429 L1293 1428.9 L1294.5 1428.9 L1296 1428.8 L1297.5 1428.7 L1299 1428.6 L1300.5 1428.5 L1302 1428.5 L1303.5 1428.4 L1305 1428.3 L1306.5 1428.2 L1308 1428.1 L1309.5 1428 L1311 1427.9 L1312.5 1427.9 L1314 1427.8 L1315.5 1427.7 L1317 1427.6 L1318.5 1427.5 L1320 1427.4 L1321.5 1427.3 L1323 1427.2 L1324.5 1427.1 L1326 1427 L1327.5 1426.9 L1329 1426.8 L1330.5 1426.7 L1332 1426.6 L1333.5 1426.6 L1335 1426.5 L1336.5 1426.4 L1338 1426.3 L1339 1426.2"/>
<path d="M237 1535.4 L238.5 1535.4 L240 1535.4 L241.5 1535.5 L243 1535.5 L244.5 1535.5 L246 1535.5 L247.5 1535.5 L249 1535.5 L250.5 1535.6 L252 1535.6 L253.5 1535.6 L255 1535.6 L256.5 1535.6 L258 1535.6 L259.5 1535.7 L261 1535.7 L262.5 1535.7 L264 1535.7 L265.5 1535.7 L267 1535.7 L268.5 1535.7 L270 1535.7 L271.5 1535.7 L273 1535.7 L274.5 1535.7 L276 1535.7 L277.5 1535.7 L279 1535.7 L280.5 1535.7 L282 1535.7 L283.5 1535.7 L285 1535.7 L286.5 1535.7 L288 1535.6 L289.5 1535.6 L291 1535.6 L292.5 1535.6 L294 1535.6 L295.5 1535.5 L297 1535.5 L298.5 1535.5 L300 1535.4 L301.5 1535.4 L303 1535.3 L304.5 1535.3 L306 1535.2 L307.5 1535.2 L309 1535.1 L310.5 1535 L312 1534.8 L313.5 1534.7 L315 1534.5 L316.5 1534.3 L318 1534.1 L319.5 1533.9 L321 1533.6 L322.5 1533.2 L324 1532.9 L325.5 1532.5 L327 1532 L328.5 1531.6 L330 1531.1 L331.5 1530.6 L333 1530 L334.5 1529.5 L336 1528.9 L337.5 1528.4 L339 1527.8 L340.5 1527.2 L342 1526.7 L343.5 1526.1 L345 1525.5 L346.5 1524.8 L348 1524.2 L349.5 1523.4 L351 1522.6 L352.5 1521.7 L354 1520.7 L355.5 1519.6 L357 1518.4 L358.5 1517 L360 1515.5 L361.5 1513.8 L363 1511.9 L364.5 1509.8 L366 1507.3 L367.5 1504.5 L369 1501.3 L370.5 1497.8 L372 1494.1 L373.5 1490.1 L375 1485.9 L376.5 1481.7 L378 1477.4 L379.5 1473.2 L381 1468.9 L382.5 1464.7 L384 1460.5 L385.5 1456.4 L387 1452.3 L388.5 1448.3 L390 1444.4 L391.5 1440.6 L393 1437 L394.5 1433.5 L396 1430.1 L397.5 1426.9 L399 1423.9 L400.5 1421.1 L402 1418.5 L403.5 1416.1 L405 1414.1 L406.5 1412.4 L408 1411.2 L409.5 1410.3 L411 1409.8 L412.5 1409.6 L414 1409.8 L415.5 1410.4 L417 1411.2 L418.5 1412.3 L420 1413.7 L421.5 1415.3 L423 1417 L424.5 1418.9 L426 1420.8 L427.5 1422.7 L429 1424.5 L430.5 1426.3 L432 1428.1 L433.5 1429.9 L435 1431.6 L436.5 1433.3 L438 1435 L439.5 1436.6 L441 1438.3 L442.5 1440 L444 1441.8 L445.5 1443.6 L447 1445.4 L448.5 1447.3 L450 1449.2 L451.5 1451.1 L453 1453.1 L454.5 1455 L456 1456.8 L457.5 1458.6 L459 1460.4 L460.5 1462.1 L462 1463.8 L463.5 1465.4 L465 1467 L466.5 1468.6 L468 1470.1 L469.5 1471.6 L471 1473.1 L472.5 1474.6 L474 1476.1 L475.5 1477.7 L477 1479.3 L478.5 1481 L480 1482.7 L481.5 1484.5 L483 1486.4 L484.5 1488.3 L486 1490.2 L487.5 1492.1 L489 1494.1 L490.5 1496 L492 1497.8 L493.5 1499.6 L495 1501.3 L496.5 1503 L498 1504.7 L499.5 1506.3 L501 1507.8 L502.5 1509.3 L504 1510.8 L505.5 1512.2 L507 1513.6 L508.5 1515 L510 1516.2 L511.5 1517.4 L513 1518.6 L514.5 1519.7 L516 1520.8 L517.5 1521.7 L519 1522.7 L520.5 1523.6 L522 1524.4 L523.5 1525.2 L525 1526 L526.5 1526.7 L528 1527.4 L529.5 1528 L531 1528.6 L532.5 1529.1 L534 1529.6 L535.5 1530 L537 1530.3 L538.5 1530.6 L540 1530.9 L541.5 1531.1 L543 1531.2 L544.5 1531.3 L546 1531.4 L547.5 1531.5 L549 1531.5 L550.5 1531.5 L552 1531.5 L553.5 1531.5 L555 1531.5 L556.5 1531.5 L558 1531.5 L559.5 1531.4 L561 1531.4 L562.5 1531.4 L564 1531.4 L565.5 1531.4 L567 1531.3 L568.5 1531.3 L570 1531.3 L571.5 1531.3 L573 1531.3 L574.5 1531.3 L576 1531.3 L577.5 1531.3 L579 1531.3 L580.5 1531.3 L582 1531.3 L583.5 1531.3 L585 1531.3 L586.5 1531.3 L588 1531.3 L589.5 1531.3 L591 1531.3 L592.5 1531.3 L594 1531.3 L595.5 1531.3 L597 1531.3 L598.5 1531.3 L600 1531.3 L601.5 1531.3 L603 1531.3 L604.5 1531.4 L606 1531.4 L607.5 1531.4 L609 1531.4 L610.5 1531.4 L612 1531.4 L613.5 1531.4 L615 1531.5 L616.5 1531.5 L618 1531.5 L619.5 1531.5 L621 1531.5 L622.5 1531.5 L624 1531.6 L625.5 1531.6 L627 1531.6 L628.5 1531.6 L630 1531.6 L631.5 1531.7 L633 1531.7 L634.5 1531.7 L636 1531.7 L637.5 1531.7 L639 1531.7 L640.5 1531.8 L642 1531.8 L643.5 1531.8 L645 1531.8 L646.5 1531.8 L648 1531.8 L649.5 1531.9 L651 1531.9 L652.5 1531.9 L654 1531.9 L655.5 1531.9 L657 1531.9 L658.5 1531.9 L660 1532 L661.5 1532 L663 1532 L664.5 1532 L666 1532 L667.5 1532 L669 1532 L670.5 1532 L672 1532 L673.5 1532 L675 1532 L676.5 1532 L678 1532 L679.5 1532 L681 1532 L682.5 1532 L684 1532 L685.5 1532 L687 1532 L688.5 1532 L690 1532 L691.5 1531.9 L693 1531.9 L694.5 1531.9 L696 1531.9 L697.5 1531.9 L699 1531.9 L700.5 1531.8 L702 1531.8 L703.5 1531.8 L705 1531.7 L706.5 1531.7 L708 1531.7 L709.5 1531.6 L711 1531.6 L712.5 1531.6 L714 1531.5 L715.5 1531.5 L717 1531.4 L718.5 1531.4 L720 1531.3 L721.5 1531.3 L723 1531.2 L724.5 1531.2 L726 1531.1 L727.5 1531 L729 1531 L730.5 1530.9 L732 1530.8 L733.5 1530.8 L735 1530.7 L736.5 1530.6 L738 1530.5 L739.5 1530.4 L741 1530.3 L742.5 1530.2 L744 1530.1 L745.5 1530.1 L747 1530 L748.5 1529.9 L750 1529.8 L751.5 1529.6 L753 1529.5 L754.5 1529.4 L756 1529.3 L757.5 1529.2 L759 1529.1 L760.5 1529 L762 1528.9 L763.5 1528.8 L765 1528.7 L766.5 1528.6 L768 1528.5 L769.5 1528.4 L771 1528.2 L772.5 1528.1 L774 1528 L775.5 1527.9 L777 1527.8 L778.5 1527.7 L780 1527.6 L781.5 1527.5 L783 1527.4 L784.5 1527.4 L786 1527.3 L787.5 1527.2 L789 1527.1 L790.5 1527 L792 1526.9 L793.5 1526.9 L795 1526.8 L796.5 1526.7 L798 1526.7 L799.5 1526.6 L801 1526.6 L802.5 1526.5 L804 1526.4 L805.5 1526.4 L807 1526.3 L808.5 1526.3 L810 1526.2 L811.5 1526.2 L813 1526.1 L814.5 1526.1 L816 1526 L817.5 1525.9 L819 1525.9 L820.5 1525.8 L822 1525.7 L823.5 1525.6 L825 1525.5 L826.5 1525.5 L828 1525.4 L829.5 1525.2 L831 1525.1 L832.5 1525 L834 1524.9 L835.5 1524.7 L837 1524.6 L838.5 1524.4 L840 1524.3 L841.5 1524.1 L843 1523.9 L844.5 1523.7 L846 1523.5 L847.5 1523.2 L849 1523 L850.5 1522.7 L852 1522.5 L853.5 1522.2 L855 1521.9 L856.5 1521.6 L858 1521.3 L859.5 1520.9 L861 1520.6 L862.5 1520.3 L864 1519.9 L865.5 1519.6 L867 1519.3 L868.5 1518.9 L870 1518.6 L871.5 1518.3 L873 1518 L874.5 1517.7 L876 1517.4 L877.5 1517.1 L879 1516.9 L880.5 1516.7 L882 1516.4 L883.5 1516.2 L885 1516.1 L886.5 1515.9 L888 1515.8 L889.5 1515.7 L891 1515.6 L892.5 1515.6 L894 1515.5 L895.5 1515.5 L897 1515.5 L898.5 1515.5 L900 1515.5 L901.5 1515.6 L903 1515.6 L904.5 1515.7 L906 1515.8 L907.5 1515.8 L909 1515.9 L910.5 1516 L912 1516.1 L913.5 1516.2 L915 1516.3 L916.5 1516.4 L918 1516.5 L919.5 1516.5 L921 1516.6 L922.5 1516.7 L924 1516.8 L925.5 1516.8 L927 1516.9 L928.5 1516.9 L930 1516.9 L931.5 1516.9 L933 1516.9 L934.5 1516.9 L936 1516.9 L937.5 1516.8 L939 1516.8 L940.5 1516.7 L942 1516.6 L943.5 1516.4 L945 1516.3 L946.5 1516.1 L948 1516 L949.5 1515.8 L951 1515.6 L952.5 1515.4 L954 1515.2 L955.5 1515 L957 1514.7 L958.5 1514.5 L960 1514.3 L961.5 1514 L963 1513.8 L964.5 1513.5 L966 1513.3 L967.5 1513 L969 1512.8 L970.5 1512.5 L972 1512.3 L973.5 1512 L975 1511.8 L976.5 1511.6 L978 1511.3 L979.5 1511.1 L981 1510.9 L982.5 1510.7 L984 1510.5 L985.5 1510.3 L987 1510.1 L988.5 1509.9 L990 1509.8 L991.5 1509.6 L993 1509.5 L994.5 1509.4 L996 1509.3 L997.5 1509.2 L999 1509.2 L1000.5 1509.1 L1002 1509.1 L1003.5 1509.1 L1005 1509.1 L1006.5 1509.2 L1008 1509.2 L1009.5 1509.3 L1011 1509.4 L1012.5 1509.6 L1014 1509.7 L1015.5 1509.9 L1017 1510.1 L1018.5 1510.4 L1020 1510.6 L1021.5 1510.9 L1023 1511.2 L1024.5 1511.5 L1026 1511.8 L1027.5 1512.1 L1029 1512.4 L1030.5 1512.7 L1032 1513 L1033.5 1513.3 L1035 1513.6 L1036.5 1513.8 L1038 1514.1 L1039.5 1514.3 L1041 1514.6 L1042.5 1514.8 L1044 1514.9 L1045.5 1515.1 L1047 1515.2 L1048.5 1515.3 L1050 1515.3 L1051.5 1515.3 L1053 1515.3 L1054.5 1515.2 L1056 1515.1 L1057.5 1515.1 L1059 1514.9 L1060.5 1514.8 L1062 1514.7 L1063.5 1514.6 L1065 1514.6 L1066.5 1514.5 L1068 1514.5 L1069.5 1514.5 L1071 1514.5 L1072.5 1514.6 L1074 1514.7 L1075.5 1514.8 L1077 1515 L1078.5 1515.2 L1080 1515.5 L1081.5 1515.9 L1083 1516.2 L1084.5 1516.6 L1086 1517 L1087.5 1517.5 L1089 1517.9 L1090.5 1518.4 L1092 1518.9 L1093.5 1519.4 L1095 1519.9 L1096.5 1520.4 L1098 1520.9 L1099.5 1521.3 L1101 1521.8 L1102.5 1522.2 L1104 1522.6 L1105.5 1523 L1107 1523.3 L1108.5 1523.7 L1110 1524.1 L1111.5 1524.4 L1113 1524.8 L1114.5 1525.2 L1116 1525.5 L1117.5 1525.9 L1119 1526.3 L1120.5 1526.6 L1122 1527 L1123.5 1527.4 L1125 1527.8 L1126.5 1528.2 L1128 1528.6 L1129.5 1529 L1131 1529.4 L1132.5 1529.8 L1134 1530.1 L1135.5 1530.5 L1137 1530.8 L1138.5 1531.1 L1140 1531.4 L1141.5 1531.6 L1143 1531.9 L1144.5 1532.1 L1146 1532.3 L1147.5 1532.4 L1149 1532.6 L1150.5 1532.7 L1152 1532.9 L1153.5 1533 L1155 1533.1 L1156.5 1533.2 L1158 1533.3 L1159.5 1533.3 L1161 1533.4 L1162.5 1533.5 L1164 1533.6 L1165.5 1533.6 L1167 1533.7 L1168.5 1533.7 L1170 1533.8 L1171.5 1533.8 L1173 1533.9 L1174.5 1533.9 L1176 1534 L1177.5 1534 L1179 1534 L1180.5 1534.1 L1182 1534.1 L1183.5 1534.1 L1185 1534.2 L1186.5 1534.2 L1188 1534.2 L1189.5 1534.2 L1191 1534.2 L1192.5 1534.2 L1194 1534.3 L1195.5 1534.3 L1197 1534.3 L1198.5 1534.3 L1200 1534.3 L1201.5 1534.3 L1203 1534.3 L1204.5 1534.3 L1206 1534.3 L1207.5 1534.3 L1209 1534.3 L1210.5 1534.3 L1212 1534.3 L1213.5 1534.3 L1215 1534.3 L1216.5 1534.3 L1218 1534.3 L1219.5 1534.3 L1221 1534.3 L1222.5 1534.3 L1224 1534.3 L1225.5 1534.3 L1227 1534.3 L1228.5 1534.3 L1230 1534.3 L1231.5 1534.3 L1233 1534.3 L1234.5 1534.3 L1236 1534.3 L1237.5 1534.3 L1239 1534.4 L1240.5 1534.4 L1242 1534.4 L1243.5 1534.4 L1245 1534.4 L1246.5 1534.4 L1248 1534.4 L1249.5 1534.4 L1251 1534.4 L1252.5 1534.4 L1254 1534.4 L1255.5 1534.5 L1257 1534.5 L1258.5 1534.5 L1260 1534.5 L1261.5 1534.5 L1263 1534.5 L1264.5 1534.5 L1266 1534.5 L1267.5 1534.6 L1269 1534.6 L1270.5 1534.6 L1272 1534.6 L1273.5 1534.6 L1275 1534.6 L1276.5 1534.7 L1278 1534.7 L1279.5 1534.7 L1281 1534.7 L1282.5 1534.7 L1284 1534.7 L1285.5 1534.8 L1287 1534.8 L1288.5 1534.8 L1290 1534.8 L1291.5 1534.8 L1293 1534.8 L1294.5 1534.9 L1296 1534.9 L1297.5 1534.9 L1299 1534.9 L1300.5 1534.9 L1302 1535 L1303.5 1535 L1305 1535 L1306.5 1535 L1308 1535 L1309.5 1535.1 L1311 1535.1 L1312.5 1535.1 L1314 1535.1 L1315.5 1535.2 L1317 1535.2 L1318.5 1535.2 L1320 1535.2 L1321.5 1535.2 L1323 1535.3 L1324.5 1535.3 L1326 1535.3 L1327.5 1535.3 L1329 1535.4 L1330.5 1535.4 L1332 1535.4 L1333.5 1535.4 L1335 1535.4 L1336.5 1535.5 L1338 1535.5 L1339 1535.5"/>
<path d="M237 1801 L238.5 1801 L240 1801 L241.5 1801 L243 1801 L244.5 1801 L246 1800.9 L247.5 1800.9 L249 1801 L250.5 1801 L252 1801 L253.5 1801 L255 1801 L256.5 1801.1 L258 1801.1 L259.5 1801.1 L261 1801.2 L262.5 1801.3 L264 1801.3 L265.5 1801.4 L267 1801.5 L268.5 1801.6 L270 1801.7 L271.5 1801.8 L273 1802 L274.5 1802.1 L276 1802.3 L277.5 1802.5 L279 1802.6 L280.5 1802.8 L282 1803 L283.5 1803.2 L285 1803.3 L286.5 1803.5 L288 1803.7 L289.5 1803.8 L291 1804 L292.5 1804.1 L294 1804.2 L295.5 1804.3 L297 1804.4 L298.5 1804.4 L300 1804.5 L301.5 1804.4 L303 1804.4 L304.5 1804.4 L306 1804.3 L307.5 1804.1 L309 1804 L310.5 1803.8 L312 1803.5 L313.5 1803.2 L315 1802.9 L316.5 1802.5 L318 1802.1 L319.5 1801.6 L321 1801.1 L322.5 1800.6 L324 1800.1 L325.5 1799.5 L327 1798.9 L328.5 1798.4 L330 1797.8 L331.5 1797.2 L333 1796.7 L334.5 1796.2 L336 1795.7 L337.5 1795.3 L339 1795 L340.5 1794.7 L342 1794.6 L343.5 1794.5 L345 1794.6 L346.5 1794.7 L348 1794.8 L349.5 1795 L351 1795.1 L352.5 1795.2 L354 1795.2 L355.5 1795.1 L357 1794.8 L358.5 1794.3 L360 1793.6 L361.5 1792.8 L363 1791.9 L364.5 1790.9 L366 1789.9 L367.5 1788.8 L369 1787.7 L370.5 1786.6 L372 1785.6 L373.5 1784.6 L375 1783.7 L376.5 1782.9 L378 1782.2 L379.5 1781.5 L381 1780.9 L382.5 1780.3 L384 1779.8 L385.5 1779.3 L387 1778.8 L388.5 1778.4 L390 1778 L391.5 1777.6 L393 1777.2 L394.5 1776.9 L396 1776.6 L397.5 1776.2 L399 1775.9 L400.5 1775.6 L402 1775.4 L403.5 1775.1 L405 1774.8 L406.5 1774.6 L408 1774.3 L409.5 1774.1 L411 1773.9 L412.5 1773.7 L414 1773.5 L415.5 1773.3 L417 1773.1 L418.5 1772.9 L420 1772.7 L421.5 1772.6 L423 1772.4 L424.5 1772.2 L426 1772.1 L427.5 1772 L429 1771.8 L430.5 1771.7 L432 1771.6 L433.5 1771.5 L435 1771.4 L436.5 1771.3 L438 1771.2 L439.5 1771.1 L441 1771 L442.5 1770.9 L444 1770.8 L445.5 1770.7 L447 1770.7 L448.5 1770.6 L450 1770.5 L451.5 1770.5 L453 1770.4 L454.5 1770.4 L456 1770.3 L457.5 1770.3 L459 1770.2 L460.5 1770.2 L462 1770.1 L463.5 1770.1 L465 1770.1 L466.5 1770 L468 1770 L469.5 1770 L471 1769.9 L472.5 1769.9 L474 1769.9 L475.5 1769.8 L477 1769.8 L478.5 1769.7 L480 1769.6 L481.5 1769.5 L483 1769.4 L484.5 1769.3 L486 1769.1 L487.5 1768.9 L489 1768.7 L490.5 1768.5 L492 1768.2 L493.5 1767.9 L495 1767.7 L496.5 1767.5 L498 1767.5 L499.5 1767.6 L501 1767.8 L502.5 1768.3 L504 1768.9 L505.5 1769.8 L507 1770.8 L508.5 1772 L510 1773.2 L511.5 1774.6 L513 1776 L514.5 1777.3 L516 1778.5 L517.5 1779.5 L519 1780.4 L520.5 1781 L522 1781.5 L523.5 1781.9 L525 1782.1 L526.5 1782.2 L528 1782.2 L529.5 1782.2 L531 1782.2 L532.5 1782.1 L534 1782 L535.5 1782 L537 1781.9 L538.5 1781.9 L540 1781.9 L541.5 1781.9 L543 1781.8 L544.5 1781.8 L546 1781.8 L547.5 1781.8 L549 1781.8 L550.5 1781.7 L552 1781.7 L553.5 1781.6 L555 1781.6 L556.5 1781.5 L558 1781.4 L559.5 1781.3 L561 1781.2 L562.5 1781.1 L564 1781 L565.5 1780.8 L567 1780.7 L568.5 1780.5 L570 1780.4 L571.5 1780.2 L573 1780.1 L574.5 1780 L576 1779.9 L577.5 1779.8 L579 1779.7 L580.5 1779.7 L582 1779.6 L583.5 1779.6 L585 1779.6 L586.5 1779.5 L588 1779.5 L589.5 1779.5 L591 1779.5 L592.5 1779.4 L594 1779.4 L595.5 1779.3 L597 1779.3 L598.5 1779.2 L600 1779.2 L601.5 1779.1 L603 1779.1 L604.5 1779 L606 1778.9 L607.5 1778.9 L609 1778.8 L610.5 1778.7 L612 1778.6 L613.5 1778.6 L615 1778.5 L616.5 1778.4 L618 1778.3 L619.5 1778.2 L621 1778.1 L622.5 1778 L624 1777.9 L625.5 1777.8 L627 1777.7 L628.5 1777.6 L630 1777.5 L631.5 1777.4 L633 1777.3 L634.5 1777.2 L636 1777.1 L637.5 1777 L639 1776.9 L640.5 1776.8 L642 1776.7 L643.5 1776.6 L645 1776.4 L646.5 1776.3 L648 1776.2 L649.5 1776.1 L651 1776 L652.5 1775.8 L654 1775.7 L655.5 1775.6 L657 1775.5 L658.5 1775.3 L660 1775.2 L661.5 1775.1 L663 1775 L664.5 1774.8 L666 1774.7 L667.5 1774.6 L669 1774.4 L670.5 1774.3 L672 1774.2 L673.5 1774 L675 1773.9 L676.5 1773.8 L678 1773.6 L679.5 1773.5 L681 1773.3 L682.5 1773.2 L684 1773.1 L685.5 1772.9 L687 1772.8 L688.5 1772.6 L690 1772.5 L691.5 1772.3 L693 1772.2 L694.5 1772 L696 1771.8 L697.5 1771.7 L699 1771.5 L700.5 1771.3 L702 1771.2 L703.5 1771 L705 1770.8 L706.5 1770.6 L708 1770.4 L709.5 1770.2 L711 1770 L712.5 1769.8 L714 1769.6 L715.5 1769.3 L717 1769.1 L718.5 1768.9 L720 1768.6 L721.5 1768.4 L723 1768.1 L724.5 1767.9 L726 1767.6 L727.5 1767.3 L729 1767 L730.5 1766.7 L732 1766.4 L733.5 1766.1 L735 1765.8 L736.5 1765.5 L738 1765.2 L739.5 1764.8 L741 1764.5 L742.5 1764.2 L744 1763.8 L745.5 1763.5 L747 1763.1 L748.5 1762.8 L750 1762.4 L751.5 1762 L753 1761.7 L754.5 1761.3 L756 1760.9 L757.5 1760.5 L759 1760.1 L760.5 1759.7 L762 1759.4 L763.5 1759 L765 1758.6 L766.5 1758.2 L768 1757.8 L769.5 1757.4 L771 1757 L772.5 1756.6 L774 1756.2 L775.5 1755.8 L777 1755.4 L778.5 1755 L780 1754.5 L781.5 1754.1 L783 1753.7 L784.5 1753.2 L786 1752.8 L787.5 1752.3 L789 1751.8 L790.5 1751.3 L792 1750.8 L793.5 1750.3 L795 1749.8 L796.5 1749.2 L798 1748.7 L799.5 1748.1 L801 1747.5 L802.5 1746.9 L804 1746.3 L805.5 1745.6 L807 1745 L808.5 1744.3 L810 1743.6 L811.5 1742.8 L813 1742.1 L814.5 1741.3 L816 1740.6 L817.5 1739.8 L819 1739 L820.5 1738.2 L822 1737.3 L823.5 1736.5 L825 1735.7 L826.5 1734.8 L828 1734 L829.5 1733.1 L831 1732.3 L832.5 1731.5 L834 1730.6 L835.5 1729.8 L837 1729 L838.5 1728.1 L840 1727.3 L841.5 1726.5 L843 1725.7 L844.5 1725 L846 1724.2 L847.5 1723.4 L849 1722.6 L850.5 1721.8 L852 1721 L853.5 1720.2 L855 1719.3 L856.5 1718.5 L858 1717.6 L859.5 1716.7 L861 1715.7 L862.5 1714.7 L864 1713.7 L865.5 1712.7 L867 1711.6 L868.5 1710.5 L870 1709.4 L871.5 1708.2 L873 1707.1 L874.5 1705.9 L876 1704.7 L877.5 1703.5 L879 1702.3 L880.5 1701.1 L882 1699.9 L883.5 1698.7 L885 1697.6 L886.5 1696.4 L888 1695.2 L889.5 1693.9 L891 1692.7 L892.5 1691.4 L894 1690.1 L895.5 1688.7 L897 1687.2 L898.5 1685.7 L900 1684.2 L901.5 1682.6 L903 1681 L904.5 1679.4 L906 1677.7 L907.5 1676 L909 1674.4 L910.5 1672.7 L912 1671 L913.5 1669.3 L915 1667.6 L916.5 1665.9 L918 1664.2 L919.5 1662.5 L921 1660.9 L922.5 1659.2 L924 1657.6 L925.5 1655.9 L927 1654.2 L928.5 1652.6 L930 1650.8 L931.5 1649.1 L933 1647.3 L934.5 1645.4 L936 1643.5 L937.5 1641.6 L939 1639.5 L940.5 1637.4 L942 1635.3 L943.5 1633.1 L945 1630.8 L946.5 1628.5 L948 1626.1 L949.5 1623.7 L951 1621.2 L952.5 1618.7 L954 1616.2 L955.5 1613.7 L957 1611.2 L958.5 1608.7 L960 1606.3 L961.5 1604 L963 1601.7 L964.5 1599.5 L966 1597.4 L967.5 1595.4 L969 1593.5 L970.5 1591.6 L972 1589.8 L973.5 1588.1 L975 1586.4 L976.5 1584.8 L978 1583.2 L979.5 1581.7 L981 1580.3 L982.5 1578.9 L984 1577.5 L985.5 1576.2 L987 1574.8 L988.5 1573.5 L990 1572.2 L991.5 1570.9 L993 1569.6 L994.5 1568.2 L996 1566.9 L997.5 1565.6 L999 1564.2 L1000.5 1562.9 L1002 1561.6 L1003.5 1560.3 L1005 1559.1 L1006.5 1557.9 L1008 1556.8 L1009.5 1555.8 L1011 1554.8 L1012.5 1554 L1014 1553.2 L1015.5 1552.5 L1017 1551.9 L1018.5 1551.3 L1020 1550.9 L1021.5 1550.6 L1023 1550.3 L1024.5 1550.2 L1026 1550.2 L1027.5 1550.2 L1029 1550.4 L1030.5 1550.7 L1032 1551.1 L1033.5 1551.6 L1035 1552.2 L1036.5 1553 L1038 1553.8 L1039.5 1554.8 L1041 1555.9 L1042.5 1557.2 L1044 1558.6 L1045.5 1560 L1047 1561.6 L1048.5 1563.2 L1050 1564.9 L1051.5 1566.6 L1053 1568.3 L1054.5 1570 L1056 1571.8 L1057.5 1573.6 L1059 1575.5 L1060.5 1577.5 L1062 1579.5 L1063.5 1581.7 L1065 1584.1 L1066.5 1586.5 L1068 1589.2 L1069.5 1591.9 L1071 1594.8 L1072.5 1597.7 L1074 1600.8 L1075.5 1603.9 L1077 1607 L1078.5 1610.2 L1080 1613.5 L1081.5 1616.7 L1083 1620 L1084.5 1623.3 L1086 1626.7 L1087.5 1630.1 L1089 1633.5 L1090.5 1637 L1092 1640.5 L1093.5 1644.1 L1095 1647.8 L1096.5 1651.5 L1098 1655.4 L1099.5 1659.3 L1101 1663.4 L1102.5 1667.7 L1104 1672.1 L1105.5 1676.7 L1107 1681.5 L1108.5 1686.3 L1110 1691.3 L1111.5 1696.2 L1113 1701.1 L1114.5 1706 L1116 1710.7 L1117.5 1715.4 L1119 1720 L1120.5 1724.5 L1122 1729 L1123.5 1733.3 L1125 1737.5 L1126.5 1741.6 L1128 1745.5 L1129.5 1749.2 L1131 1752.6 L1132.5 1755.8 L1134 1758.7 L1135.5 1761.4 L1137 1763.9 L1138.5 1766.2 L1140 1768.2 L1141.5 1770.1 L1143 1771.8 L1144.5 1773.4 L1146 1774.7 L1147.5 1776 L1149 1777.1 L1150.5 1778 L1152 1778.9 L1153.5 1779.6 L1155 1780.3 L1156.5 1780.9 L1158 1781.4 L1159.5 1781.8 L1161 1782.1 L1162.5 1782.4 L1164 1782.6 L1165.5 1782.8 L1167 1783 L1168.5 1783.1 L1170 1783.1 L1171.5 1783.2 L1173 1783.2 L1174.5 1783.2 L1176 1783.2 L1177.5 1783.2 L1179 1783.1 L1180.5 1783.1 L1182 1783 L1183.5 1782.9 L1185 1782.8 L1186.5 1782.7 L1188 1782.5 L1189.5 1782.4 L1191 1782.3 L1192.5 1782.1 L1194 1782 L1195.5 1781.8 L1197 1781.7 L1198.5 1781.5 L1200 1781.4 L1201.5 1781.2 L1203 1781.1 L1204.5 1781 L1206 1780.9 L1207.5 1780.8 L1209 1780.7 L1210.5 1780.6 L1212 1780.5 L1213.5 1780.5 L1215 1780.5 L1216.5 1780.5 L1218 1780.5 L1219.5 1780.6 L1221 1780.6 L1222.5 1780.7 L1224 1780.7 L1225.5 1780.8 L1227 1780.9 L1228.5 1781.1 L1230 1781.2 L1231.5 1781.3 L1233 1781.4 L1234.5 1781.6 L1236 1781.7 L1237.5 1781.9 L1239 1782 L1240.5 1782.2 L1242 1782.3 L1243.5 1782.5 L1245 1782.7 L1246.5 1782.8 L1248 1783 L1249.5 1783.1 L1251 1783.3 L1252.5 1783.4 L1254 1783.5 L1255.5 1783.7 L1257 1783.8 L1258.5 1783.9 L1260 1784 L1261.5 1784.1 L1263 1784.2 L1264.5 1784.2 L1266 1784.3 L1267.5 1784.4 L1269 1784.4 L1270.5 1784.5 L1272 1784.5 L1273.5 1784.6 L1275 1784.6 L1276.5 1784.6 L1278 1784.7 L1279.5 1784.7 L1281 1784.7 L1282.5 1784.7 L1284 1784.8 L1285.5 1784.8 L1287 1784.8 L1288.5 1784.8 L1290 1784.8 L1291.5 1784.8 L1293 1784.8 L1294.5 1784.8 L1296 1784.8 L1297.5 1784.8 L1299 1784.8 L1300.5 1784.8 L1302 1784.8 L1303.5 1784.8 L1305 1784.8 L1306.5 1784.8 L1308 1784.8 L1309.5 1784.8 L1311 1784.8 L1312.5 1784.8 L1314 1784.9 L1315.5 1784.9 L1317 1784.9 L1318.5 1784.9 L1320 1784.9 L1321.5 1784.9 L1323 1784.9 L1324.5 1784.9 L1326 1784.9 L1327.5 1784.9 L1329 1784.9 L1330.5 1784.9 L1332 1785 L1333.5 1785 L1335 1785 L1336.5 1785 L1338 1785 L1339 1785"/>
<path d="M237 1978.4 L238.5 1978.4 L240 1978.4 L241.5 1978.5 L243 1978.5 L244.5 1978.5 L246 1978.5 L247.5 1978.6 L249 1978.6 L250.5 1978.6 L252 1978.6 L253.5 1978.7 L255 1978.7 L256.5 1978.7 L258 1978.7 L259.5 1978.7 L261 1978.8 L262.5 1978.8 L264 1978.8 L265.5 1978.8 L267 1978.8 L268.5 1978.8 L270 1978.9 L271.5 1978.9 L273 1978.9 L274.5 1978.9 L276 1978.9 L277.5 1978.9 L279 1978.9 L280.5 1978.9 L282 1978.9 L283.5 1978.9 L285 1978.9 L286.5 1978.9 L288 1978.9 L289.5 1978.9 L291 1978.9 L292.5 1978.9 L294 1978.9 L295.5 1978.9 L297 1978.9 L298.5 1978.9 L300 1978.9 L301.5 1978.9 L303 1978.9 L304.5 1978.9 L306 1978.8 L307.5 1978.8 L309 1978.8 L310.5 1978.8 L312 1978.8 L313.5 1978.7 L315 1978.7 L316.5 1978.7 L318 1978.6 L319.5 1978.6 L321 1978.6 L322.5 1978.5 L324 1978.5 L325.5 1978.4 L327 1978.4 L328.5 1978.3 L330 1978.3 L331.5 1978.2 L333 1978.1 L334.5 1978.1 L336 1978 L337.5 1977.9 L339 1977.7 L340.5 1977.6 L342 1977.5 L343.5 1977.3 L345 1977.1 L346.5 1976.9 L348 1976.7 L349.5 1976.4 L351 1976.2 L352.5 1975.9 L354 1975.5 L355.5 1975.2 L357 1974.8 L358.5 1974.4 L360 1973.9 L361.5 1973.5 L363 1973 L364.5 1972.5 L366 1971.9 L367.5 1971.4 L369 1970.8 L370.5 1970.2 L372 1969.5 L373.5 1968.9 L375 1968.2 L376.5 1967.5 L378 1966.8 L379.5 1966.1 L381 1965.3 L382.5 1964.6 L384 1963.8 L385.5 1963 L387 1962.2 L388.5 1961.5 L390 1960.7 L391.5 1959.9 L393 1959.2 L394.5 1958.4 L396 1957.7 L397.5 1957 L399 1956.3 L400.5 1955.7 L402 1955 L403.5 1954.4 L405 1953.8 L406.5 1953.2 L408 1952.7 L409.5 1952.2 L411 1951.6 L412.5 1951.1 L414 1950.7 L415.5 1950.2 L417 1949.8 L418.5 1949.3 L420 1948.9 L421.5 1948.5 L423 1948.1 L424.5 1947.8 L426 1947.4 L427.5 1947.1 L429 1946.7 L430.5 1946.4 L432 1946.1 L433.5 1945.8 L435 1945.6 L436.5 1945.3 L438 1945 L439.5 1944.8 L441 1944.5 L442.5 1944.3 L444 1944 L445.5 1943.8 L447 1943.6 L448.5 1943.4 L450 1943.2 L451.5 1943 L453 1942.8 L454.5 1942.6 L456 1942.4 L457.5 1942.1 L459 1941.9 L460.5 1941.7 L462 1941.5 L463.5 1941.3 L465 1941.1 L466.5 1940.9 L468 1940.6 L469.5 1940.4 L471 1940.1 L472.5 1939.9 L474 1939.6 L475.5 1939.3 L477 1939 L478.5 1938.7 L480 1938.4 L481.5 1938.1 L483 1937.8 L484.5 1937.5 L486 1937.3 L487.5 1937.1 L489 1936.9 L490.5 1936.8 L492 1936.7 L493.5 1936.7 L495 1936.8 L496.5 1936.9 L498 1937.2 L499.5 1937.5 L501 1938 L502.5 1938.6 L504 1939.4 L505.5 1940.3 L507 1941.4 L508.5 1942.8 L510 1944.3 L511.5 1946 L513 1947.8 L514.5 1949.7 L516 1951.6 L517.5 1953.5 L519 1955.4 L520.5 1957.1 L522 1958.8 L523.5 1960.4 L525 1961.8 L526.5 1963.2 L528 1964.4 L529.5 1965.4 L531 1966.3 L532.5 1967 L534 1967.6 L535.5 1968.1 L537 1968.5 L538.5 1968.8 L540 1969 L541.5 1969.1 L543 1969.2 L544.5 1969.3 L546 1969.3 L547.5 1969.2 L549 1969.2 L550.5 1969.1 L552 1968.9 L553.5 1968.8 L555 1968.6 L556.5 1968.4 L558 1968.2 L559.5 1967.9 L561 1967.7 L562.5 1967.4 L564 1967.1 L565.5 1966.8 L567 1966.4 L568.5 1966.1 L570 1965.8 L571.5 1965.4 L573 1965 L574.5 1964.7 L576 1964.3 L577.5 1964 L579 1963.6 L580.5 1963.3 L582 1962.9 L583.5 1962.6 L585 1962.3 L586.5 1961.9 L588 1961.6 L589.5 1961.3 L591 1961 L592.5 1960.7 L594 1960.4 L595.5 1960.1 L597 1959.8 L598.5 1959.5 L600 1959.2 L601.5 1959 L603 1958.7 L604.5 1958.5 L606 1958.2 L607.5 1958 L609 1957.7 L610.5 1957.5 L612 1957.3 L613.5 1957 L615 1956.8 L616.5 1956.6 L618 1956.4 L619.5 1956.2 L621 1956 L622.5 1955.8 L624 1955.6 L625.5 1955.4 L627 1955.3 L628.5 1955.1 L630 1954.9 L631.5 1954.7 L633 1954.5 L634.5 1954.3 L636 1954.1 L637.5 1953.9 L639 1953.7 L640.5 1953.5 L642 1953.3 L643.5 1953.1 L645 1952.9 L646.5 1952.7 L648 1952.5 L649.5 1952.2 L651 1952 L652.5 1951.7 L654 1951.5 L655.5 1951.2 L657 1950.9 L658.5 1950.6 L660 1950.3 L661.5 1950 L663 1949.6 L664.5 1949.2 L666 1948.9 L667.5 1948.5 L669 1948.1 L670.5 1947.7 L672 1947.2 L673.5 1946.8 L675 1946.4 L676.5 1945.9 L678 1945.5 L679.5 1945 L681 1944.5 L682.5 1944 L684 1943.6 L685.5 1943.1 L687 1942.6 L688.5 1942.1 L690 1941.6 L691.5 1941.1 L693 1940.6 L694.5 1940.1 L696 1939.6 L697.5 1939.1 L699 1938.6 L700.5 1938.1 L702 1937.6 L703.5 1937.1 L705 1936.7 L706.5 1936.2 L708 1935.7 L709.5 1935.2 L711 1934.7 L712.5 1934.2 L714 1933.7 L715.5 1933.2 L717 1932.7 L718.5 1932.2 L720 1931.7 L721.5 1931.2 L723 1930.7 L724.5 1930.2 L726 1929.6 L727.5 1929.1 L729 1928.6 L730.5 1928 L732 1927.4 L733.5 1926.9 L735 1926.3 L736.5 1925.7 L738 1925.1 L739.5 1924.4 L741 1923.8 L742.5 1923.2 L744 1922.5 L745.5 1921.8 L747 1921.1 L748.5 1920.4 L750 1919.7 L751.5 1919 L753 1918.3 L754.5 1917.5 L756 1916.8 L757.5 1916 L759 1915.2 L760.5 1914.4 L762 1913.6 L763.5 1912.8 L765 1912 L766.5 1911.1 L768 1910.3 L769.5 1909.4 L771 1908.6 L772.5 1907.7 L774 1906.8 L775.5 1905.9 L777 1905 L778.5 1904.1 L780 1903.1 L781.5 1902.2 L783 1901.3 L784.5 1900.3 L786 1899.3 L787.5 1898.4 L789 1897.4 L790.5 1896.4 L792 1895.4 L793.5 1894.4 L795 1893.4 L796.5 1892.4 L798 1891.3 L799.5 1890.3 L801 1889.3 L802.5 1888.2 L804 1887.1 L805.5 1886 L807 1884.9 L808.5 1883.7 L810 1882.5 L811.5 1881.2 L813 1879.9 L814.5 1878.6 L816 1877.1 L817.5 1875.7 L819 1874.1 L820.5 1872.5 L822 1870.8 L823.5 1869.1 L825 1867.3 L826.5 1865.5 L828 1863.7 L829.5 1861.8 L831 1860 L832.5 1858.1 L834 1856.3 L835.5 1854.4 L837 1852.6 L838.5 1850.9 L840 1849.1 L841.5 1847.4 L843 1845.7 L844.5 1844 L846 1842.4 L847.5 1840.8 L849 1839.1 L850.5 1837.5 L852 1835.9 L853.5 1834.3 L855 1832.7 L856.5 1831 L858 1829.4 L859.5 1827.7 L861 1826 L862.5 1824.3 L864 1822.6 L865.5 1820.8 L867 1819 L868.5 1817.2 L870 1815.4 L871.5 1813.5 L873 1811.7 L874.5 1809.8 L876 1807.8 L877.5 1805.9 L879 1803.9 L880.5 1801.9 L882 1799.9 L883.5 1797.9 L885 1795.8 L886.5 1793.7 L888 1791.6 L889.5 1789.5 L891 1787.3 L892.5 1785.1 L894 1782.8 L895.5 1780.5 L897 1778.2 L898.5 1775.8 L900 1773.3 L901.5 1770.8 L903 1768.2 L904.5 1765.6 L906 1763.1 L907.5 1760.5 L909 1758 L910.5 1755.5 L912 1753.2 L913.5 1750.8 L915 1748.6 L916.5 1746.3 L918 1744.1 L919.5 1741.8 L921 1739.5 L922.5 1737 L924 1734.5 L925.5 1732 L927 1729.5 L928.5 1726.9 L930 1724.4 L931.5 1722 L933 1719.7 L934.5 1717.4 L936 1715.3 L937.5 1713.3 L939 1711.3 L940.5 1709.4 L942 1707.6 L943.5 1705.9 L945 1704.2 L946.5 1702.6 L948 1701.1 L949.5 1699.5 L951 1698 L952.5 1696.6 L954 1695.1 L955.5 1693.7 L957 1692.3 L958.5 1690.8 L960 1689.4 L961.5 1688 L963 1686.6 L964.5 1685.2 L966 1683.9 L967.5 1682.5 L969 1681.2 L970.5 1680 L972 1678.8 L973.5 1677.6 L975 1676.5 L976.5 1675.4 L978 1674.4 L979.5 1673.5 L981 1672.6 L982.5 1671.8 L984 1671 L985.5 1670.3 L987 1669.7 L988.5 1669.1 L990 1668.6 L991.5 1668.2 L993 1667.9 L994.5 1667.7 L996 1667.5 L997.5 1667.4 L999 1667.4 L1000.5 1667.5 L1002 1667.7 L1003.5 1668 L1005 1668.3 L1006.5 1668.8 L1008 1669.3 L1009.5 1669.9 L1011 1670.6 L1012.5 1671.4 L1014 1672.2 L1015.5 1673.2 L1017 1674.2 L1018.5 1675.3 L1020 1676.6 L1021.5 1677.9 L1023 1679.2 L1024.5 1680.7 L1026 1682.3 L1027.5 1684 L1029 1685.7 L1030.5 1687.6 L1032 1689.5 L1033.5 1691.6 L1035 1693.7 L1036.5 1695.9 L1038 1698.2 L1039.5 1700.6 L1041 1703.1 L1042.5 1705.7 L1044 1708.4 L1045.5 1711.3 L1047 1714.3 L1048.5 1717.5 L1050 1720.9 L1051.5 1724.6 L1053 1728.4 L1054.5 1732.3 L1056 1736.2 L1057.5 1740.2 L1059 1744.1 L1060.5 1747.9 L1062 1751.6 L1063.5 1755.4 L1065 1759.1 L1066.5 1762.8 L1068 1766.5 L1069.5 1770.4 L1071 1774.3 L1072.5 1778.2 L1074 1782.1 L1075.5 1786.1 L1077 1789.9 L1078.5 1793.6 L1080 1797.3 L1081.5 1800.8 L1083 1804.2 L1084.5 1807.6 L1086 1811 L1087.5 1814.3 L1089 1817.6 L1090.5 1820.8 L1092 1824.1 L1093.5 1827.3 L1095 1830.5 L1096.5 1833.7 L1098 1836.8 L1099.5 1839.9 L1101 1842.9 L1102.5 1845.8 L1104 1848.8 L1105.5 1851.7 L1107 1854.7 L1108.5 1857.7 L1110 1860.8 L1111.5 1864 L1113 1867.3 L1114.5 1870.7 L1116 1874.3 L1117.5 1878 L1119 1881.8 L1120.5 1885.8 L1122 1889.9 L1123.5 1894.2 L1125 1898.5 L1126.5 1902.9 L1128 1907.4 L1129.5 1911.9 L1131 1916.3 L1132.5 1920.7 L1134 1925 L1135.5 1929.1 L1137 1933.1 L1138.5 1936.8 L1140 1940.3 L1141.5 1943.5 L1143 1946.4 L1144.5 1949.1 L1146 1951.4 L1147.5 1953.4 L1149 1955.2 L1150.5 1956.6 L1152 1957.8 L1153.5 1958.8 L1155 1959.5 L1156.5 1960.1 L1158 1960.5 L1159.5 1960.8 L1161 1960.9 L1162.5 1961 L1164 1961.1 L1165.5 1961 L1167 1960.9 L1168.5 1960.8 L1170 1960.6 L1171.5 1960.4 L1173 1960.1 L1174.5 1959.9 L1176 1959.6 L1177.5 1959.3 L1179 1958.9 L1180.5 1958.6 L1182 1958.3 L1183.5 1958.1 L1185 1957.8 L1186.5 1957.5 L1188 1957.2 L1189.5 1957 L1191 1956.8 L1192.5 1956.5 L1194 1956.3 L1195.5 1956.1 L1197 1955.9 L1198.5 1955.7 L1200 1955.5 L1201.5 1955.3 L1203 1955.2 L1204.5 1955 L1206 1954.9 L1207.5 1954.8 L1209 1954.6 L1210.5 1954.5 L1212 1954.4 L1213.5 1954.4 L1215 1954.3 L1216.5 1954.2 L1218 1954.2 L1219.5 1954.2 L1221 1954.1 L1222.5 1954.2 L1224 1954.2 L1225.5 1954.2 L1227 1954.3 L1228.5 1954.3 L1230 1954.4 L1231.5 1954.5 L1233 1954.6 L1234.5 1954.8 L1236 1955 L1237.5 1955.1 L1239 1955.4 L1240.5 1955.6 L1242 1955.8 L1243.5 1956.1 L1245 1956.4 L1246.5 1956.8 L1248 1957.1 L1249.5 1957.5 L1251 1957.9 L1252.5 1958.3 L1254 1958.8 L1255.5 1959.2 L1257 1959.7 L1258.5 1960.2 L1260 1960.7 L1261.5 1961.2 L1263 1961.7 L1264.5 1962.2 L1266 1962.7 L1267.5 1963.2 L1269 1963.7 L1270.5 1964.2 L1272 1964.8 L1273.5 1965.3 L1275 1965.7 L1276.5 1966.2 L1278 1966.7 L1279.5 1967.2 L1281 1967.6 L1282.5 1968 L1284 1968.4 L1285.5 1968.8 L1287 1969.1 L1288.5 1969.4 L1290 1969.7 L1291.5 1969.9 L1293 1970.2 L1294.5 1970.4 L1296 1970.6 L1297.5 1970.7 L1299 1970.9 L1300.5 1971 L1302 1971.1 L1303.5 1971.2 L1305 1971.3 L1306.5 1971.4 L1308 1971.4 L1309.5 1971.5 L1311 1971.6 L1312.5 1971.6 L1314 1971.7 L1315.5 1971.8 L1317 1971.8 L1318.5 1971.9 L1320 1971.9 L1321.5 1972 L1323 1972.1 L1324.5 1972.1 L1326 1972.2 L1327.5 1972.2 L1329 1972.3 L1330.5 1972.3 L1332 1972.4 L1333.5 1972.4 L1335 1972.5 L1336.5 1972.5 L1338 1972.6 L1339 1972.6"/>
</g>
<path d="M235.6 22H1339.3V2051.5H235.6ZM235.6 1036H1339.3" stroke="#000" stroke-width="6" fill="none" stroke-linejoin="miter"/>
<path d="M235.6 983h21M235.6 876.1h12.5M235.6 769.2h21M235.6 662.4h12.5M235.6 555.5h21M235.6 448.6h12.5M235.6 341.8h21M235.6 234.9h12.5M235.6 128h21M343.5 2051.5v-9.5M486 2051.5v-18.5M627.5 2051.5v-9.5M770.5 2051.5v-18.5M911.5 2051.5v-9.5M1054.7 2051.5v-18.5M1197.5 2051.5v-9.5" stroke="#000" stroke-width="5.5" fill="none"/>
<text transform="translate(100.95 145.9) scale(0.98 1)" font-size="71.89">100</text>
<text transform="translate(138.67 359.5) scale(1.01 1)" font-size="71.47">80</text>
<text transform="translate(138.11 573.11) scale(1.02 1)" font-size="71.04">60</text>
<text transform="translate(138.65 786.82) scale(1.03 1)" font-size="69.91">40</text>
<text transform="translate(138.89 1000.9) scale(1 1)" font-size="72.03">20</text>
<text transform="translate(426.45 2127.79) scale(0.97 1)" font-size="72.74">200</text>
<text transform="translate(709.78 2127.79) scale(0.97 1)" font-size="72.74">400</text>
<text transform="translate(994.75 2128.28) scale(0.98 1)" font-size="73.59">600</text>
<text transform="translate(1280.29 2128.28) scale(0.97 1)" font-size="73.59">800</text>
<text transform="translate(550.56 2234.08) scale(1.07 1)" font-size="68.5" font-style="italic">temperature</text>
<text transform="translate(1011.57 2229.71) scale(0.99 1)" font-size="66.47">°</text>
<text transform="translate(1039.32 2235.99) scale(0.78 1)" font-size="72.46">C</text>
<text transform="translate(1209.63 232.32) scale(0.86 1)" font-size="59.18">DTG</text>
<text transform="translate(1247.37 875.23) scale(0.85 1)" font-size="58.62">TG</text>
<text transform="translate(914.19 1280) scale(0.97 1)" font-size="56.55" font-style="italic">m</text>
<text transform="translate(987.79 1280) scale(0.85 1)" font-size="57.54" font-style="italic">z</text>
<text transform="translate(1026.14 1279.51) scale(1.03 1)" font-size="53.06">=</text>
<text transform="translate(1072.69 1280.44) scale(1.01 1)" font-size="57.49">18</text>
<text transform="translate(1153.59 1279.34) scale(0.69 1)" font-size="72.24">(</text>
<text transform="translate(1176.18 1281) scale(0.91 1)" font-size="59.16">H</text>
<text transform="translate(1214.24 1292.5) scale(0.99 1)" font-size="35.37">2</text>
<text transform="translate(1235.6 1281.42) scale(0.85 1)" font-size="59.32">O</text>
<text transform="translate(1276.39 1250.19) scale(1.01 1)" font-size="30.66">+</text>
<text transform="translate(1299.75 1279.34) scale(0.6 1)" font-size="72.24">)</text>
<text transform="translate(1091.41 1408.13) scale(0.98 1)" font-size="58.76">30</text>
<text transform="translate(1172.11 1405.87) scale(0.68 1)" font-size="71.16">(</text>
<text transform="translate(1194.41 1407.5) scale(0.95 1)" font-size="57.56">N</text>
<text transform="translate(1236.39 1408.61) scale(0.84 1)" font-size="60.73">O</text>
<text transform="translate(1275.94 1375.78) scale(1.01 1)" font-size="31.68">+</text>
<text transform="translate(1300.56 1405.87) scale(0.58 1)" font-size="71.16">)</text>
<text transform="translate(1071.57 1512.93) scale(0.99 1)" font-size="58.47">46</text>
<text transform="translate(1153.58 1510.89) scale(0.69 1)" font-size="70.09">(</text>
<text transform="translate(1173.97 1513.5) scale(0.96 1)" font-size="60.18">N</text>
<text transform="translate(1215.71 1513.41) scale(0.87 1)" font-size="60.73">O</text>
<text transform="translate(1256.97 1523.6) scale(1.01 1)" font-size="34.23">2</text>
<text transform="translate(1276.27 1482.43) scale(1.01 1)" font-size="31.07">+</text>
<text transform="translate(1299.83 1510.89) scale(0.65 1)" font-size="70.09">)</text>
<text transform="translate(1211.17 1697.33) scale(1 1)" font-size="58.47">28</text>
<text transform="translate(1178.85 1759.79) scale(0.66 1)" font-size="70.09">(</text>
<text transform="translate(1200.56 1762.51) scale(0.76 1)" font-size="60.73">C</text>
<text transform="translate(1235.43 1762.51) scale(0.86 1)" font-size="60.73">O</text>
<text transform="translate(1275.83 1730.4) scale(1.01 1)" font-size="31.89">+</text>
<text transform="translate(1299.73 1759.79) scale(0.66 1)" font-size="70.09">)</text>
<text transform="translate(1203.86 1878.7) scale(0.98 1)" font-size="59.45">44</text>
<text transform="translate(1160.81 1936.06) scale(0.66 1)" font-size="72.67">(</text>
<text transform="translate(1181.31 1937.72) scale(0.76 1)" font-size="59.46">C</text>
<text transform="translate(1214.47 1938.3) scale(0.84 1)" font-size="61.16">O</text>
<text transform="translate(1256.56 1948.8) scale(1.01 1)" font-size="34.37">2</text>
<text transform="translate(1276.01 1905.64) scale(1.01 1)" font-size="32.29">+</text>
<text transform="translate(1300.13 1936.06) scale(0.63 1)" font-size="72.67">)</text>
<text transform="translate(75.04 694.52) rotate(-90) scale(1 1)" font-size="67.54" font-style="italic">mass</text>
<text transform="translate(75.37 466.1) rotate(-90) scale(0.81 1)" font-size="72.89">%</text>
<text transform="translate(158.93 1809.56) rotate(-90) scale(1.02 1)" font-size="68.49" font-style="italic">MS: ion current</text>
<line x1="967.4" y1="2244.2" x2="991.8" y2="2178.9" stroke="#000" stroke-width="5"/>
<line x1="965.5" y1="1288.6" x2="983.9" y2="1236.3" stroke="#000" stroke-width="4.5"/>
<line x1="21.2" y1="487.3" x2="84.2" y2="515.5" stroke="#000" stroke-width="5"/>
</svg></body></html>
